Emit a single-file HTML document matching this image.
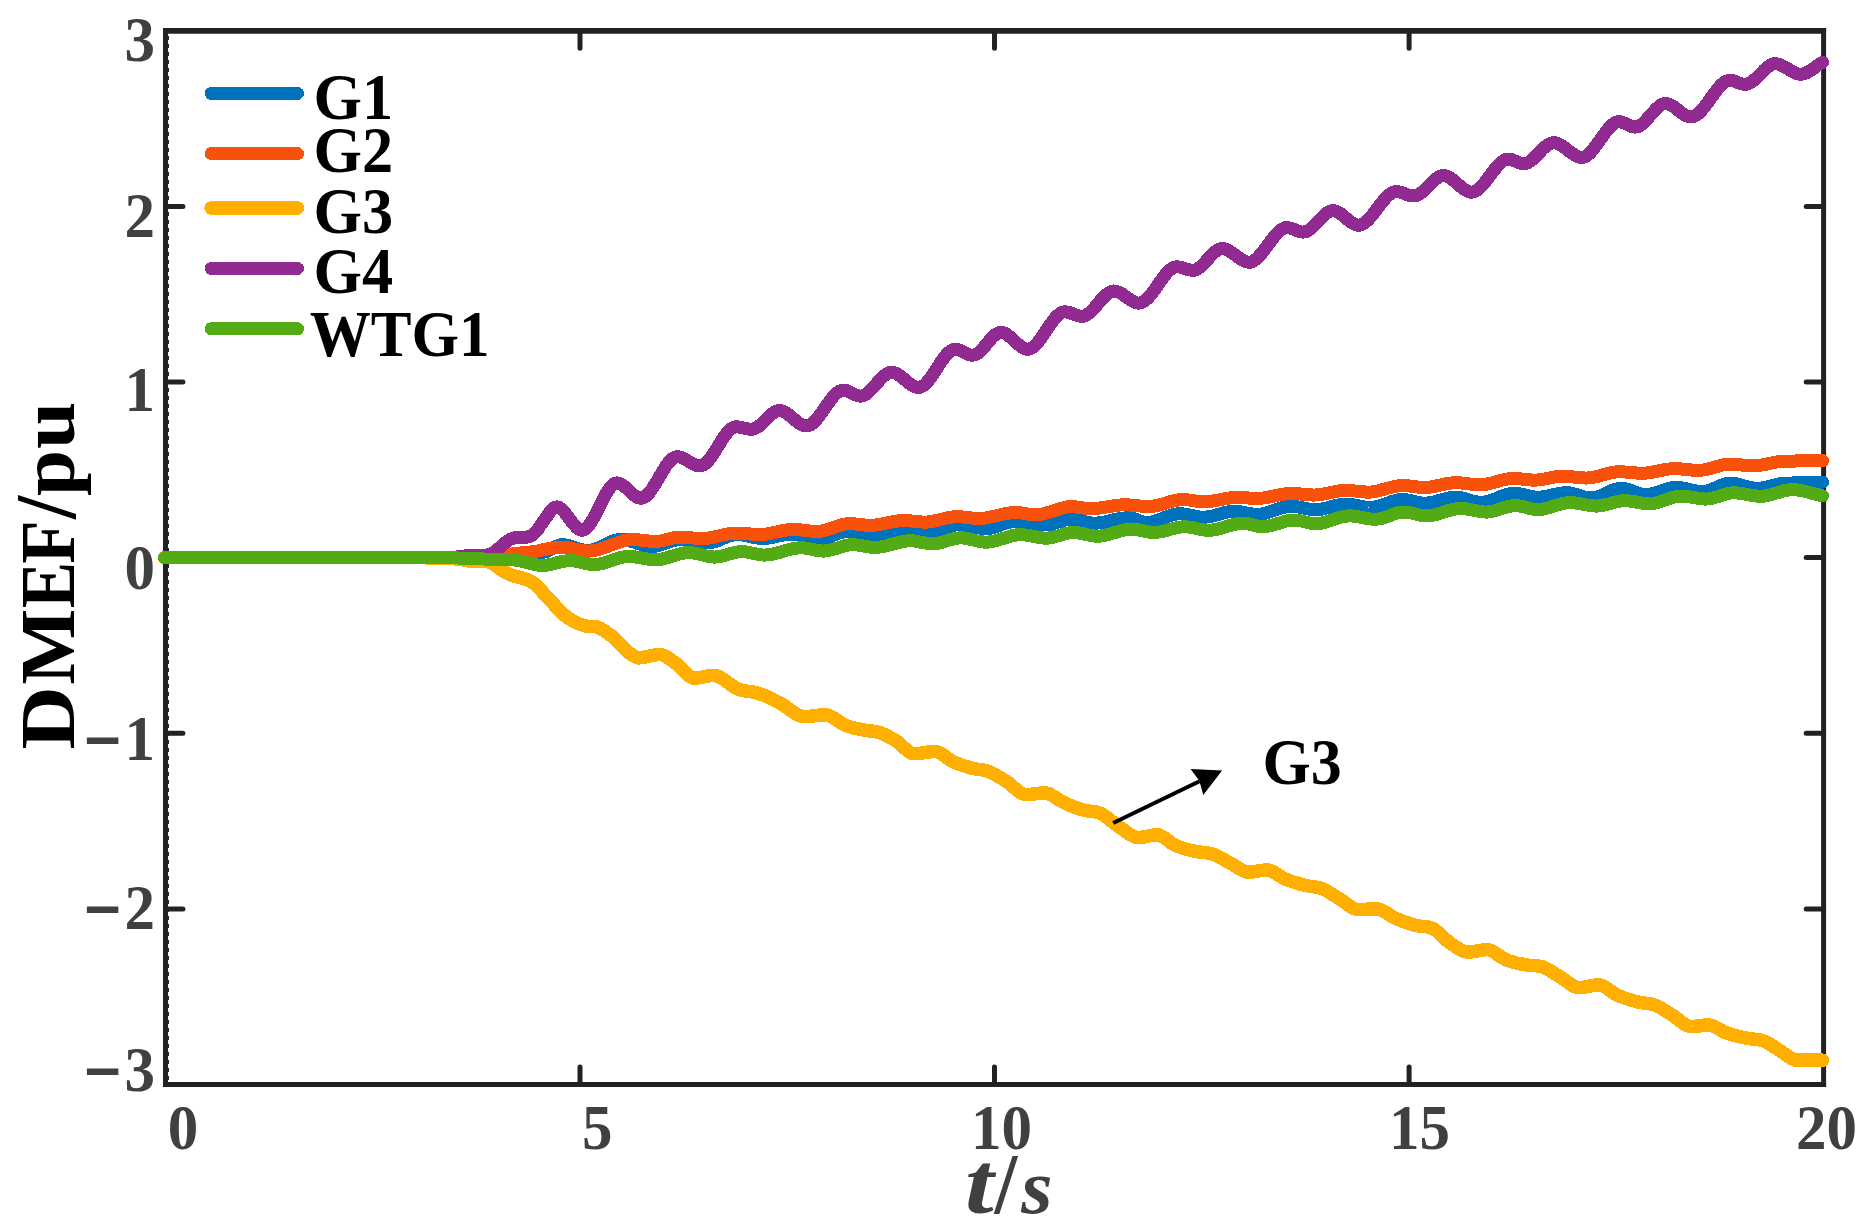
<!DOCTYPE html>
<html lang="en"><head><meta charset="utf-8"><title>DMEF/pu vs t/s</title>
<style>html,body{margin:0;padding:0;background:#fff;}svg{display:block;}</style></head>
<body>
<svg width="1870" height="1232" viewBox="0 0 1870 1232">
<rect width="1870" height="1232" fill="#ffffff"/>
<g stroke="#222222" fill="none"><path d="M163 30.9 H1826.1" stroke-width="5.6"/><path d="M163 1084.5 H1826.1" stroke-width="5"/><path d="M165.5 28.1 V1087" stroke-width="5"/><path d="M1823.6 28.1 V1087" stroke-width="5"/><path d="M168.5 36 V1082" stroke-width="1" stroke-dasharray="4 4"/></g>
<path d="M580.0 1084.5 V1067.1M580.0 30.8 V48.2M994.5 1084.5 V1067.1M994.5 30.8 V48.2M1409.1 1084.5 V1067.1M1409.1 30.8 V48.2M165.5 206.4 H182.9M1823.6 206.4 H1806.2M165.5 382.0 H182.9M1823.6 382.0 H1806.2M165.5 557.6 H182.9M1823.6 557.6 H1806.2M165.5 733.3 H182.9M1823.6 733.3 H1806.2M165.5 908.9 H182.9M1823.6 908.9 H1806.2" fill="none" stroke="#222222" stroke-width="5" stroke-linecap="round"/>
<g fill="none" stroke-width="13" stroke-linecap="round" stroke-linejoin="round" shape-rendering="crispEdges">
<path stroke="#0072BD" d="M164.5 557.6L470.0 557.6L471.5 557.6L473.0 557.6L474.5 557.6L476.0 557.6L477.5 557.5L479.0 557.4L480.5 557.4L482.0 557.3L483.5 557.2L485.0 557.1L486.5 557.0L488.0 556.9L489.5 556.8L491.0 556.7L492.5 556.6L494.0 556.5L495.5 556.3L497.0 556.2L498.5 556.1L500.0 556.0L501.4 555.9L502.9 555.8L504.3 555.7L505.7 555.5L507.1 555.4L508.6 555.3L510.0 555.1L511.4 555.0L512.9 554.9L514.3 554.7L515.7 554.6L517.1 554.5L518.6 554.3L520.0 554.2L521.4 554.1L522.8 553.9L524.3 553.8L525.7 553.6L527.1 553.4L528.5 553.3L529.9 553.1L531.4 552.9L532.8 552.8L534.2 552.7L535.6 552.5L537.0 552.4L538.4 552.3L539.9 552.3L541.3 552.2L542.7 552.2L544.2 552.1L545.7 551.7L547.2 551.2L548.6 550.5L550.1 549.7L551.6 548.9L553.1 548.0L554.6 547.2L556.1 546.4L557.5 545.7L559.0 545.2L560.5 544.8L562.0 544.7L563.4 544.8L564.9 544.9L566.3 545.1L567.8 545.4L569.2 545.8L570.7 546.2L572.1 546.6L573.6 547.1L575.0 547.6L576.4 548.1L577.9 548.6L579.3 549.0L580.8 549.4L582.2 549.8L583.7 550.1L585.1 550.3L586.6 550.4L588.0 550.5L589.5 550.4L591.0 550.2L592.5 549.9L594.0 549.5L595.5 549.1L597.0 548.5L598.5 547.9L600.0 547.2L601.5 546.5L603.0 545.7L604.5 545.0L606.0 544.3L607.5 543.5L609.0 542.8L610.5 542.1L612.0 541.5L613.5 540.9L615.0 540.5L616.5 540.1L618.0 539.8L619.5 539.6L621.0 539.5L622.5 539.5L623.9 539.7L625.4 539.9L626.9 540.2L628.3 540.5L629.8 540.9L631.3 541.3L632.7 541.7L634.2 542.2L635.7 542.7L637.1 543.2L638.6 543.7L640.1 544.2L641.5 544.6L643.0 545.0L644.5 545.4L645.9 545.7L647.4 546.0L648.9 546.2L650.3 546.4L651.8 546.4L653.3 546.3L654.7 546.2L656.2 546.0L657.6 545.7L659.1 545.3L660.5 544.9L662.0 544.5L663.4 544.0L664.9 543.5L666.3 543.0L667.8 542.4L669.3 541.9L670.7 541.4L672.2 541.0L673.6 540.6L675.1 540.2L676.5 539.9L678.0 539.7L679.4 539.6L680.9 539.5L682.3 539.5L683.8 539.6L685.2 539.7L686.6 539.9L688.1 540.1L689.5 540.3L690.9 540.5L692.4 540.8L693.8 541.0L695.2 541.3L696.6 541.5L698.1 541.8L699.5 542.0L700.9 542.2L702.4 542.4L703.8 542.6L705.2 542.7L706.7 542.8L708.1 542.8L709.5 542.7L711.0 542.6L712.4 542.3L713.9 541.9L715.3 541.5L716.8 541.0L718.2 540.5L719.7 539.9L721.1 539.3L722.5 538.6L724.0 538.0L725.4 537.4L726.9 536.8L728.3 536.3L729.8 535.8L731.2 535.4L732.7 535.0L734.1 534.7L735.6 534.6L737.0 534.5L738.4 534.5L739.9 534.6L741.3 534.8L742.7 535.0L744.1 535.3L745.6 535.5L747.0 535.8L748.4 536.2L749.9 536.5L751.3 536.8L752.7 537.2L754.1 537.5L755.6 537.7L757.0 538.0L758.4 538.2L759.8 538.4L761.3 538.5L762.7 538.5L764.2 538.5L765.7 538.4L767.2 538.2L768.7 538.0L770.1 537.8L771.6 537.5L773.1 537.2L774.6 536.9L776.1 536.5L777.6 536.2L779.1 535.8L780.6 535.5L782.1 535.2L783.6 534.9L785.0 534.7L786.5 534.5L788.0 534.3L789.5 534.2L791.0 534.2L792.5 534.2L794.0 534.3L795.4 534.4L796.9 534.6L798.4 534.8L799.9 535.0L801.3 535.2L802.8 535.5L804.3 535.8L805.8 536.1L807.2 536.3L808.7 536.6L810.2 536.9L811.7 537.2L813.1 537.4L814.6 537.6L816.1 537.8L817.6 538.0L819.0 538.1L820.5 538.2L822.0 538.2L823.5 538.1L824.9 537.9L826.4 537.6L827.9 537.3L829.4 536.8L830.8 536.3L832.3 535.7L833.8 535.1L835.2 534.6L836.7 534.0L838.2 533.4L839.6 532.9L841.1 532.4L842.6 532.1L844.1 531.8L845.5 531.6L847.0 531.5L848.5 531.5L849.9 531.6L851.4 531.7L852.9 531.9L854.4 532.1L855.8 532.4L857.3 532.6L858.8 532.9L860.3 533.2L861.7 533.5L863.2 533.8L864.7 534.1L866.2 534.3L867.6 534.6L869.1 534.8L870.6 535.0L872.1 535.1L873.5 535.2L875.0 535.2L876.5 535.2L877.9 535.0L879.4 534.9L880.8 534.6L882.3 534.3L883.7 533.9L885.2 533.5L886.6 533.1L888.1 532.7L889.5 532.2L891.0 531.8L892.5 531.3L893.9 530.8L895.4 530.4L896.8 530.0L898.3 529.6L899.7 529.2L901.2 528.9L902.6 528.6L904.1 528.5L905.5 528.3L907.0 528.3L908.4 528.3L909.9 528.4L911.3 528.6L912.7 528.7L914.1 529.0L915.6 529.2L917.0 529.5L918.4 529.8L919.9 530.0L921.3 530.3L922.7 530.6L924.1 530.9L925.6 531.1L927.0 531.4L928.4 531.5L929.8 531.7L931.3 531.8L932.7 531.8L934.2 531.7L935.6 531.5L937.1 531.2L938.6 530.8L940.1 530.3L941.5 529.8L943.0 529.2L944.5 528.6L945.9 528.0L947.4 527.4L948.9 526.8L950.3 526.3L951.8 525.8L953.3 525.4L954.8 525.1L956.2 524.9L957.7 524.8L959.2 524.8L960.7 524.9L962.2 525.0L963.7 525.2L965.2 525.4L966.7 525.7L968.2 525.9L969.7 526.2L971.2 526.5L972.7 526.8L974.2 527.1L975.7 527.4L977.2 527.6L978.7 527.9L980.2 528.1L981.7 528.3L983.2 528.4L984.7 528.5L986.2 528.5L987.7 528.4L989.1 528.3L990.6 528.1L992.0 527.8L993.5 527.4L994.9 527.0L996.4 526.5L997.8 526.0L999.3 525.5L1000.8 525.0L1002.2 524.4L1003.7 523.9L1005.1 523.4L1006.6 522.9L1008.0 522.5L1009.5 522.1L1010.9 521.8L1012.4 521.6L1013.8 521.5L1015.3 521.4L1016.8 521.4L1018.2 521.5L1019.7 521.6L1021.2 521.7L1022.6 521.9L1024.1 522.1L1025.6 522.3L1027.0 522.5L1028.5 522.7L1030.0 523.0L1031.4 523.2L1032.9 523.5L1034.4 523.7L1035.8 523.9L1037.3 524.1L1038.8 524.3L1040.2 524.5L1041.7 524.6L1043.2 524.7L1044.6 524.8L1046.1 524.8L1047.6 524.7L1049.0 524.6L1050.5 524.3L1052.0 524.0L1053.4 523.6L1054.9 523.2L1056.4 522.7L1057.8 522.2L1059.3 521.8L1060.7 521.3L1062.2 520.8L1063.7 520.4L1065.1 520.0L1066.6 519.7L1068.1 519.4L1069.5 519.3L1071.0 519.2L1072.4 519.2L1073.9 519.4L1075.3 519.6L1076.8 519.8L1078.2 520.1L1079.6 520.5L1081.1 520.8L1082.5 521.2L1083.9 521.6L1085.4 521.9L1086.8 522.3L1088.2 522.6L1089.7 522.8L1091.1 523.0L1092.6 523.2L1094.0 523.2L1095.5 523.2L1097.0 523.1L1098.5 522.9L1099.9 522.8L1101.4 522.5L1102.9 522.3L1104.4 522.0L1105.9 521.7L1107.4 521.4L1108.9 521.0L1110.4 520.7L1111.8 520.3L1113.3 520.0L1114.8 519.6L1116.3 519.3L1117.8 519.0L1119.3 518.7L1120.8 518.5L1122.3 518.2L1123.7 518.1L1125.2 517.9L1126.7 517.8L1128.2 517.8L1129.7 517.9L1131.1 518.1L1132.6 518.4L1134.0 518.8L1135.5 519.3L1136.9 519.8L1138.4 520.4L1139.8 520.9L1141.3 521.4L1142.7 521.8L1144.2 522.1L1145.6 522.3L1147.1 522.4L1148.6 522.3L1150.1 522.2L1151.5 522.0L1153.0 521.7L1154.5 521.3L1156.0 520.8L1157.4 520.3L1158.9 519.8L1160.4 519.3L1161.9 518.7L1163.3 518.1L1164.8 517.5L1166.3 516.9L1167.8 516.4L1169.3 515.9L1170.7 515.4L1172.2 514.9L1173.7 514.5L1175.2 514.2L1176.6 514.0L1178.1 513.9L1179.6 513.8L1181.1 513.8L1182.6 513.9L1184.1 514.1L1185.6 514.3L1187.1 514.6L1188.6 514.9L1190.1 515.2L1191.5 515.5L1193.0 515.8L1194.5 516.1L1196.0 516.4L1197.5 516.7L1199.0 516.9L1200.5 517.1L1202.0 517.2L1203.5 517.2L1205.0 517.2L1206.4 517.0L1207.9 516.9L1209.4 516.6L1210.8 516.4L1212.3 516.0L1213.8 515.7L1215.2 515.3L1216.7 514.9L1218.2 514.5L1219.6 514.0L1221.1 513.6L1222.6 513.2L1224.0 512.8L1225.5 512.5L1227.0 512.1L1228.4 511.9L1229.9 511.6L1231.4 511.5L1232.8 511.3L1234.3 511.3L1235.7 511.3L1237.1 511.4L1238.6 511.6L1240.0 511.8L1241.4 512.0L1242.8 512.3L1244.3 512.6L1245.7 512.9L1247.1 513.1L1248.5 513.4L1250.0 513.7L1251.4 513.9L1252.8 514.1L1254.2 514.3L1255.7 514.4L1257.1 514.4L1258.6 514.4L1260.1 514.2L1261.6 514.0L1263.0 513.8L1264.5 513.4L1266.0 513.0L1267.5 512.6L1269.0 512.1L1270.5 511.6L1272.0 511.1L1273.5 510.6L1274.9 510.1L1276.4 509.6L1277.9 509.1L1279.4 508.6L1280.9 508.1L1282.4 507.7L1283.9 507.3L1285.4 506.9L1286.8 506.7L1288.3 506.5L1289.8 506.3L1291.3 506.3L1292.8 506.3L1294.3 506.4L1295.8 506.6L1297.3 506.8L1298.8 507.1L1300.3 507.4L1301.8 507.7L1303.3 508.0L1304.8 508.3L1306.3 508.6L1307.8 508.9L1309.3 509.2L1310.8 509.4L1312.3 509.6L1313.8 509.7L1315.3 509.7L1316.8 509.7L1318.2 509.6L1319.7 509.4L1321.2 509.2L1322.6 508.9L1324.1 508.6L1325.6 508.2L1327.0 507.9L1328.5 507.5L1330.0 507.1L1331.4 506.7L1332.9 506.3L1334.4 505.9L1335.8 505.6L1337.3 505.2L1338.8 504.9L1340.2 504.6L1341.7 504.4L1343.2 504.2L1344.6 504.1L1346.1 504.1L1347.6 504.1L1349.1 504.2L1350.6 504.4L1352.1 504.6L1353.6 504.9L1355.1 505.2L1356.6 505.5L1358.0 505.8L1359.5 506.1L1361.0 506.4L1362.5 506.7L1364.0 507.0L1365.5 507.2L1367.0 507.4L1368.5 507.5L1370.0 507.5L1371.5 507.5L1373.0 507.3L1374.4 507.1L1375.9 506.8L1377.4 506.4L1378.9 506.0L1380.4 505.6L1381.9 505.1L1383.3 504.6L1384.8 504.0L1386.3 503.5L1387.8 503.0L1389.3 502.4L1390.7 501.9L1392.2 501.4L1393.7 501.0L1395.2 500.6L1396.7 500.2L1398.2 499.9L1399.6 499.7L1401.1 499.5L1402.6 499.5L1404.1 499.5L1405.6 499.7L1407.0 499.9L1408.5 500.1L1410.0 500.5L1411.5 500.8L1413.0 501.2L1414.4 501.5L1415.9 501.9L1417.4 502.2L1418.9 502.6L1420.4 502.8L1421.8 503.0L1423.3 503.2L1424.8 503.2L1426.3 503.2L1427.7 503.0L1429.2 502.9L1430.7 502.6L1432.1 502.3L1433.6 502.0L1435.1 501.6L1436.5 501.3L1438.0 500.8L1439.5 500.4L1440.9 500.0L1442.4 499.6L1443.9 499.1L1445.3 498.8L1446.8 498.4L1448.3 498.1L1449.7 497.8L1451.2 497.5L1452.7 497.4L1454.1 497.2L1455.6 497.2L1457.0 497.2L1458.5 497.4L1459.9 497.6L1461.3 497.9L1462.7 498.2L1464.2 498.5L1465.6 498.9L1467.0 499.4L1468.4 499.8L1469.9 500.2L1471.3 500.7L1472.7 501.1L1474.2 501.4L1475.6 501.7L1477.0 502.0L1478.4 502.2L1479.9 502.4L1481.3 502.4L1482.8 502.3L1484.3 502.2L1485.7 501.9L1487.2 501.6L1488.7 501.2L1490.2 500.7L1491.6 500.2L1493.1 499.7L1494.6 499.1L1496.1 498.5L1497.5 497.9L1499.0 497.2L1500.5 496.6L1502.0 496.0L1503.5 495.5L1504.9 495.0L1506.4 494.5L1507.9 494.1L1509.4 493.8L1510.8 493.5L1512.3 493.4L1513.8 493.3L1515.3 493.3L1516.8 493.5L1518.3 493.7L1519.8 493.9L1521.3 494.2L1522.8 494.5L1524.3 494.9L1525.8 495.2L1527.2 495.6L1528.7 496.0L1530.2 496.3L1531.7 496.6L1533.2 496.8L1534.7 497.0L1536.2 497.2L1537.7 497.2L1539.1 497.2L1540.6 497.1L1542.0 496.9L1543.5 496.7L1544.9 496.5L1546.3 496.2L1547.8 495.9L1549.2 495.6L1550.7 495.3L1552.1 494.9L1553.5 494.6L1555.0 494.3L1556.4 494.0L1557.9 493.7L1559.3 493.4L1560.7 493.2L1562.2 493.0L1563.6 492.8L1565.1 492.7L1566.5 492.7L1568.0 492.8L1569.4 492.9L1570.9 493.1L1572.3 493.4L1573.8 493.8L1575.2 494.2L1576.7 494.7L1578.1 495.1L1579.6 495.6L1581.0 496.0L1582.5 496.5L1583.9 496.9L1585.4 497.3L1586.8 497.6L1588.3 497.8L1589.7 497.9L1591.2 498.0L1592.7 497.9L1594.2 497.7L1595.7 497.4L1597.2 497.0L1598.7 496.5L1600.2 495.9L1601.7 495.3L1603.2 494.6L1604.7 493.9L1606.2 493.1L1607.7 492.4L1609.2 491.7L1610.7 491.0L1612.2 490.4L1613.7 489.8L1615.2 489.3L1616.7 488.9L1618.2 488.6L1619.7 488.4L1621.2 488.3L1622.7 488.4L1624.1 488.5L1625.6 488.8L1627.0 489.2L1628.5 489.6L1629.9 490.1L1631.4 490.6L1632.8 491.1L1634.3 491.7L1635.7 492.2L1637.2 492.7L1638.6 493.2L1640.1 493.6L1641.5 494.0L1643.0 494.3L1644.4 494.4L1645.9 494.5L1647.4 494.4L1648.9 494.3L1650.4 494.1L1651.9 493.8L1653.4 493.4L1654.9 493.0L1656.4 492.5L1657.9 492.0L1659.4 491.5L1660.9 490.9L1662.4 490.4L1663.9 489.9L1665.4 489.4L1666.9 488.9L1668.4 488.5L1669.9 488.1L1671.4 487.8L1672.9 487.6L1674.4 487.5L1675.9 487.4L1677.4 487.4L1678.8 487.5L1680.3 487.7L1681.8 487.9L1683.2 488.2L1684.7 488.5L1686.2 488.8L1687.6 489.1L1689.1 489.4L1690.6 489.8L1692.0 490.1L1693.5 490.4L1695.0 490.7L1696.4 491.0L1697.9 491.2L1699.4 491.4L1700.8 491.5L1702.3 491.5L1703.8 491.4L1705.3 491.2L1706.8 491.0L1708.3 490.6L1709.7 490.1L1711.2 489.6L1712.7 489.0L1714.2 488.4L1715.7 487.7L1717.2 487.1L1718.7 486.4L1720.2 485.8L1721.7 485.2L1723.2 484.7L1724.6 484.2L1726.1 483.8L1727.6 483.6L1729.1 483.4L1730.6 483.3L1732.1 483.3L1733.5 483.5L1735.0 483.7L1736.5 483.9L1737.9 484.2L1739.4 484.6L1740.9 485.0L1742.3 485.4L1743.8 485.8L1745.3 486.2L1746.7 486.6L1748.2 487.0L1749.7 487.4L1751.1 487.7L1752.6 487.9L1754.1 488.1L1755.5 488.3L1757.0 488.3L1758.5 488.3L1760.0 488.2L1761.5 488.0L1763.0 487.7L1764.5 487.5L1766.0 487.2L1767.5 486.8L1769.0 486.4L1770.5 486.0L1772.0 485.6L1773.5 485.3L1775.0 484.9L1776.5 484.5L1778.0 484.1L1779.5 483.8L1781.0 483.6L1782.5 483.3L1784.0 483.1L1785.5 483.0L1787.0 483.0L1788.5 483.0L1790.0 483.0L1791.4 483.0L1792.9 483.0L1794.4 482.9L1795.9 482.9L1797.4 482.9L1798.8 482.8L1800.3 482.8L1801.8 482.8L1803.3 482.7L1804.8 482.7L1806.2 482.6L1807.7 482.6L1809.2 482.5L1810.7 482.5L1812.1 482.4L1813.6 482.4L1815.1 482.3L1816.6 482.3L1818.1 482.2L1819.5 482.2L1821.0 482.1L1822.5 482.1"/>
<path stroke="#F7510B" d="M164.5 557.6L470.0 557.6L471.4 557.6L472.9 557.6L474.3 557.6L475.7 557.6L477.1 557.5L478.6 557.5L480.0 557.4L481.4 557.4L482.9 557.3L484.3 557.2L485.7 557.1L487.1 557.0L488.6 556.9L490.0 556.8L491.5 556.7L492.9 556.5L494.4 556.3L495.8 556.2L497.3 556.0L498.8 555.8L500.2 555.5L501.7 555.3L503.1 555.1L504.6 554.9L506.1 554.7L507.5 554.5L509.0 554.3L510.4 554.1L511.9 553.9L513.4 553.7L514.9 553.6L516.4 553.4L517.9 553.3L519.4 553.1L520.9 553.0L522.4 552.9L523.9 552.7L525.4 552.6L526.9 552.4L528.4 552.3L529.9 552.1L531.4 551.9L532.8 551.7L534.3 551.5L535.7 551.2L537.2 551.0L538.7 550.7L540.1 550.4L541.6 550.1L543.0 549.8L544.5 549.5L546.0 549.2L547.4 548.9L548.9 548.7L550.3 548.4L551.8 548.2L553.2 548.0L554.7 547.8L556.2 547.6L557.6 547.5L559.1 547.4L560.5 547.3L562.0 547.3L563.5 547.3L564.9 547.4L566.4 547.6L567.9 547.8L569.4 548.0L570.8 548.3L572.3 548.5L573.8 548.8L575.2 549.1L576.7 549.5L578.2 549.8L579.7 550.0L581.1 550.3L582.6 550.5L584.1 550.7L585.6 550.9L587.0 551.0L588.5 551.0L590.0 551.0L591.4 550.9L592.9 550.7L594.4 550.4L595.9 550.2L597.3 549.8L598.8 549.4L600.3 549.0L601.7 548.5L603.2 548.0L604.7 547.5L606.1 547.0L607.6 546.4L609.1 545.9L610.5 545.3L612.0 544.7L613.5 544.2L615.0 543.6L616.4 543.1L617.9 542.6L619.4 542.1L620.8 541.6L622.3 541.2L623.8 540.8L625.2 540.4L626.7 540.2L628.2 539.9L629.7 539.7L631.1 539.6L632.6 539.6L634.0 539.6L635.5 539.7L636.9 539.8L638.4 539.9L639.8 540.0L641.3 540.2L642.7 540.3L644.2 540.5L645.6 540.7L647.0 540.8L648.5 541.0L649.9 541.1L651.4 541.2L652.8 541.3L654.3 541.4L655.7 541.4L657.2 541.4L658.7 541.2L660.1 541.0L661.6 540.8L663.1 540.5L664.6 540.1L666.1 539.8L667.6 539.4L669.0 539.0L670.5 538.6L672.0 538.3L673.5 537.9L675.0 537.6L676.5 537.4L677.9 537.2L679.4 537.0L680.9 537.0L682.4 537.0L683.9 537.1L685.4 537.2L686.8 537.3L688.3 537.5L689.8 537.6L691.3 537.8L692.8 538.0L694.3 538.1L695.8 538.3L697.2 538.4L698.7 538.5L700.2 538.6L701.7 538.6L703.2 538.6L704.6 538.5L706.1 538.4L707.6 538.2L709.1 538.0L710.5 537.7L712.0 537.4L713.5 537.1L714.9 536.8L716.4 536.5L717.9 536.1L719.4 535.8L720.8 535.5L722.3 535.1L723.8 534.8L725.2 534.5L726.7 534.2L728.2 533.9L729.6 533.6L731.1 533.4L732.6 533.2L734.1 533.1L735.5 533.0L737.0 533.0L738.5 533.0L740.0 533.1L741.5 533.2L743.0 533.3L744.5 533.4L746.0 533.6L747.5 533.7L749.0 533.9L750.5 534.0L752.0 534.2L753.5 534.3L755.0 534.4L756.5 534.5L758.0 534.6L759.5 534.6L761.0 534.6L762.4 534.5L763.9 534.4L765.4 534.2L766.8 534.0L768.3 533.7L769.8 533.5L771.2 533.2L772.7 532.9L774.2 532.5L775.6 532.2L777.1 531.9L778.5 531.6L780.0 531.2L781.5 530.9L782.9 530.6L784.4 530.4L785.9 530.1L787.3 529.9L788.8 529.7L790.3 529.6L791.7 529.5L793.2 529.5L794.7 529.5L796.2 529.6L797.7 529.7L799.2 529.8L800.7 529.9L802.2 530.1L803.7 530.3L805.2 530.5L806.7 530.6L808.2 530.8L809.7 531.0L811.2 531.1L812.7 531.2L814.2 531.3L815.7 531.4L817.2 531.4L818.7 531.4L820.1 531.2L821.6 531.0L823.0 530.7L824.5 530.4L826.0 530.0L827.4 529.6L828.9 529.1L830.3 528.6L831.8 528.1L833.2 527.5L834.7 527.0L836.2 526.5L837.6 526.0L839.1 525.5L840.5 525.1L842.0 524.7L843.5 524.4L844.9 524.1L846.4 523.9L847.8 523.7L849.3 523.7L850.8 523.7L852.3 523.8L853.8 523.9L855.3 524.0L856.8 524.2L858.3 524.3L859.8 524.5L861.2 524.7L862.7 524.8L864.2 525.0L865.7 525.1L867.2 525.2L868.7 525.3L870.2 525.3L871.7 525.3L873.1 525.2L874.6 525.1L876.1 524.9L877.5 524.7L879.0 524.5L880.5 524.2L881.9 524.0L883.4 523.7L884.9 523.4L886.3 523.1L887.8 522.7L889.2 522.4L890.7 522.1L892.2 521.8L893.6 521.6L895.1 521.3L896.6 521.1L898.0 520.9L899.5 520.7L901.0 520.6L902.4 520.5L903.9 520.5L905.4 520.5L906.9 520.6L908.4 520.7L909.8 520.8L911.3 521.0L912.8 521.1L914.3 521.3L915.8 521.5L917.3 521.6L918.8 521.8L920.2 521.9L921.7 522.0L923.2 522.1L924.7 522.1L926.2 522.1L927.6 522.0L929.1 521.8L930.6 521.6L932.0 521.4L933.5 521.1L935.0 520.8L936.4 520.5L937.9 520.1L939.4 519.8L940.9 519.4L942.3 519.0L943.8 518.7L945.3 518.3L946.7 518.0L948.2 517.7L949.7 517.4L951.1 517.2L952.6 517.0L954.1 516.8L955.5 516.7L957.0 516.7L958.5 516.7L960.0 516.8L961.5 516.9L963.0 517.0L964.5 517.1L966.0 517.3L967.5 517.5L968.9 517.6L970.4 517.8L971.9 518.0L973.4 518.1L974.9 518.2L976.4 518.3L977.9 518.4L979.4 518.4L980.9 518.4L982.4 518.3L983.9 518.2L985.4 518.0L986.9 517.7L988.4 517.5L989.9 517.2L991.4 516.9L992.9 516.6L994.4 516.2L995.9 515.9L997.3 515.5L998.8 515.1L1000.3 514.8L1001.8 514.4L1003.3 514.1L1004.8 513.8L1006.3 513.5L1007.8 513.3L1009.3 513.0L1010.8 512.8L1012.3 512.7L1013.8 512.6L1015.3 512.6L1016.8 512.6L1018.2 512.7L1019.7 512.8L1021.2 513.0L1022.6 513.2L1024.1 513.4L1025.5 513.7L1027.0 513.9L1028.5 514.1L1029.9 514.3L1031.4 514.5L1032.9 514.6L1034.3 514.7L1035.8 514.7L1037.3 514.7L1038.8 514.5L1040.3 514.4L1041.8 514.1L1043.3 513.8L1044.8 513.4L1046.3 513.0L1047.8 512.6L1049.3 512.1L1050.8 511.7L1052.3 511.2L1053.8 510.7L1055.3 510.1L1056.8 509.6L1058.3 509.2L1059.8 508.7L1061.3 508.3L1062.8 507.9L1064.3 507.5L1065.8 507.2L1067.3 506.9L1068.8 506.8L1070.3 506.6L1071.8 506.6L1073.2 506.6L1074.7 506.7L1076.1 506.9L1077.6 507.1L1079.0 507.3L1080.5 507.5L1081.9 507.8L1083.4 508.0L1084.8 508.2L1086.3 508.4L1087.7 508.6L1089.2 508.7L1090.6 508.7L1092.1 508.7L1093.6 508.6L1095.1 508.5L1096.5 508.4L1098.0 508.2L1099.5 508.0L1101.0 507.8L1102.5 507.6L1104.0 507.4L1105.5 507.1L1107.0 506.9L1108.4 506.6L1109.9 506.4L1111.4 506.1L1112.9 505.9L1114.4 505.7L1115.9 505.5L1117.4 505.3L1118.9 505.1L1120.3 505.0L1121.8 504.9L1123.3 504.8L1124.8 504.8L1126.3 504.8L1127.8 504.9L1129.3 505.0L1130.8 505.1L1132.3 505.2L1133.8 505.3L1135.3 505.5L1136.8 505.6L1138.3 505.8L1139.8 506.0L1141.3 506.1L1142.8 506.2L1144.3 506.3L1145.8 506.4L1147.3 506.5L1148.8 506.5L1150.3 506.5L1151.8 506.4L1153.3 506.2L1154.7 505.9L1156.2 505.7L1157.7 505.3L1159.2 505.0L1160.7 504.6L1162.2 504.2L1163.7 503.7L1165.2 503.3L1166.6 502.8L1168.1 502.4L1169.6 501.9L1171.1 501.5L1172.6 501.1L1174.1 500.8L1175.6 500.4L1177.1 500.2L1178.5 499.9L1180.0 499.7L1181.5 499.6L1183.0 499.6L1184.5 499.6L1185.9 499.7L1187.4 499.9L1188.9 500.0L1190.3 500.2L1191.8 500.5L1193.2 500.7L1194.7 500.9L1196.2 501.2L1197.6 501.4L1199.1 501.5L1200.6 501.7L1202.0 501.8L1203.5 501.8L1205.0 501.8L1206.5 501.7L1208.0 501.6L1209.4 501.4L1210.9 501.3L1212.4 501.1L1213.9 500.8L1215.4 500.6L1216.9 500.3L1218.4 500.0L1219.9 499.7L1221.3 499.5L1222.8 499.2L1224.3 498.9L1225.8 498.6L1227.3 498.4L1228.8 498.1L1230.3 497.9L1231.8 497.8L1233.2 497.6L1234.7 497.5L1236.2 497.4L1237.7 497.4L1239.2 497.4L1240.7 497.5L1242.2 497.5L1243.7 497.6L1245.2 497.7L1246.7 497.8L1248.1 498.0L1249.6 498.1L1251.1 498.2L1252.6 498.3L1254.1 498.3L1255.6 498.4L1257.1 498.4L1258.6 498.4L1260.1 498.3L1261.6 498.2L1263.0 498.0L1264.5 497.8L1266.0 497.6L1267.5 497.3L1269.0 497.0L1270.5 496.7L1272.0 496.4L1273.5 496.1L1274.9 495.8L1276.4 495.5L1277.9 495.2L1279.4 494.9L1280.9 494.6L1282.4 494.3L1283.9 494.1L1285.4 493.9L1286.8 493.7L1288.3 493.6L1289.8 493.5L1291.3 493.5L1292.8 493.5L1294.3 493.6L1295.8 493.7L1297.2 493.8L1298.7 493.9L1300.2 494.0L1301.7 494.2L1303.2 494.3L1304.7 494.5L1306.2 494.6L1307.7 494.7L1309.1 494.8L1310.6 494.9L1312.1 495.0L1313.6 495.0L1315.1 495.0L1316.6 494.9L1318.0 494.8L1319.5 494.6L1321.0 494.4L1322.5 494.2L1323.9 493.9L1325.4 493.6L1326.9 493.3L1328.4 493.0L1329.8 492.7L1331.3 492.4L1332.8 492.1L1334.3 491.8L1335.8 491.5L1337.2 491.2L1338.7 491.0L1340.2 490.8L1341.7 490.6L1343.1 490.5L1344.6 490.4L1346.1 490.4L1347.6 490.4L1349.1 490.5L1350.5 490.6L1352.0 490.7L1353.5 490.8L1355.0 491.0L1356.5 491.2L1357.9 491.3L1359.4 491.5L1360.9 491.7L1362.4 491.8L1363.9 491.9L1365.3 492.0L1366.8 492.1L1368.3 492.1L1369.8 492.1L1371.3 492.0L1372.8 491.8L1374.3 491.6L1375.8 491.3L1377.2 491.0L1378.7 490.7L1380.2 490.3L1381.7 489.9L1383.2 489.5L1384.7 489.1L1386.2 488.6L1387.7 488.2L1389.2 487.8L1390.7 487.4L1392.2 487.0L1393.7 486.7L1395.1 486.4L1396.6 486.1L1398.1 485.9L1399.6 485.7L1401.1 485.6L1402.6 485.6L1404.1 485.6L1405.6 485.7L1407.0 485.8L1408.5 485.9L1410.0 486.1L1411.5 486.3L1413.0 486.5L1414.4 486.6L1415.9 486.8L1417.4 487.0L1418.9 487.2L1420.4 487.3L1421.8 487.4L1423.3 487.5L1424.8 487.5L1426.3 487.5L1427.7 487.4L1429.2 487.2L1430.7 487.0L1432.1 486.8L1433.6 486.5L1435.1 486.3L1436.5 485.9L1438.0 485.6L1439.5 485.3L1440.9 484.9L1442.4 484.6L1443.9 484.3L1445.3 483.9L1446.8 483.7L1448.3 483.4L1449.7 483.2L1451.2 483.0L1452.7 482.8L1454.1 482.7L1455.6 482.7L1457.1 482.7L1458.6 482.8L1460.1 482.9L1461.6 483.0L1463.1 483.2L1464.6 483.4L1466.1 483.6L1467.6 483.8L1469.1 483.9L1470.6 484.1L1472.1 484.3L1473.6 484.5L1475.1 484.6L1476.6 484.7L1478.1 484.8L1479.6 484.8L1481.1 484.8L1482.6 484.7L1484.1 484.5L1485.5 484.3L1487.0 484.0L1488.5 483.7L1490.0 483.4L1491.5 483.0L1493.0 482.6L1494.5 482.2L1496.0 481.8L1497.4 481.4L1498.9 481.0L1500.4 480.6L1501.9 480.2L1503.4 479.8L1504.9 479.5L1506.4 479.2L1507.9 478.9L1509.3 478.7L1510.8 478.5L1512.3 478.4L1513.8 478.4L1515.3 478.4L1516.7 478.5L1518.2 478.6L1519.7 478.7L1521.1 478.9L1522.6 479.1L1524.0 479.2L1525.5 479.4L1527.0 479.6L1528.4 479.8L1529.9 479.9L1531.4 480.0L1532.8 480.1L1534.3 480.1L1535.7 480.1L1537.2 480.0L1538.6 479.9L1540.0 479.7L1541.5 479.5L1542.9 479.3L1544.3 479.0L1545.7 478.7L1547.2 478.4L1548.6 478.1L1550.0 477.9L1551.5 477.6L1552.9 477.3L1554.3 477.0L1555.8 476.8L1557.2 476.6L1558.6 476.4L1560.0 476.3L1561.5 476.2L1562.9 476.2L1564.3 476.2L1565.8 476.3L1567.2 476.4L1568.7 476.5L1570.1 476.6L1571.5 476.8L1573.0 476.9L1574.4 477.1L1575.8 477.3L1577.3 477.4L1578.7 477.6L1580.2 477.7L1581.6 477.8L1583.0 477.9L1584.5 478.0L1585.9 478.0L1587.4 478.0L1588.8 477.9L1590.3 477.7L1591.7 477.5L1593.2 477.2L1594.6 477.0L1596.1 476.6L1597.6 476.3L1599.0 475.9L1600.5 475.5L1601.9 475.1L1603.4 474.7L1604.8 474.3L1606.3 473.9L1607.7 473.5L1609.2 473.2L1610.7 472.8L1612.1 472.6L1613.6 472.3L1615.0 472.1L1616.5 471.9L1617.9 471.8L1619.4 471.8L1620.8 471.8L1622.3 471.9L1623.7 471.9L1625.1 472.0L1626.6 472.1L1628.0 472.2L1629.4 472.4L1630.8 472.5L1632.3 472.6L1633.7 472.8L1635.1 472.9L1636.6 473.0L1638.0 473.1L1639.4 473.1L1640.9 473.2L1642.3 473.2L1643.7 473.2L1645.2 473.1L1646.6 473.0L1648.1 472.8L1649.5 472.6L1651.0 472.4L1652.4 472.1L1653.9 471.8L1655.3 471.6L1656.8 471.3L1658.2 470.9L1659.6 470.6L1661.1 470.3L1662.5 470.1L1664.0 469.8L1665.4 469.5L1666.9 469.3L1668.3 469.1L1669.8 468.9L1671.2 468.8L1672.7 468.7L1674.1 468.7L1675.6 468.7L1677.0 468.8L1678.5 468.8L1679.9 468.9L1681.4 469.0L1682.8 469.2L1684.3 469.3L1685.7 469.4L1687.2 469.6L1688.6 469.7L1690.1 469.8L1691.5 470.0L1693.0 470.1L1694.4 470.2L1695.9 470.2L1697.3 470.3L1698.8 470.3L1700.2 470.3L1701.7 470.2L1703.1 470.0L1704.6 469.8L1706.0 469.5L1707.5 469.2L1708.9 468.8L1710.4 468.4L1711.8 468.0L1713.3 467.6L1714.7 467.2L1716.1 466.8L1717.6 466.4L1719.0 466.0L1720.5 465.6L1721.9 465.2L1723.4 464.9L1724.8 464.6L1726.3 464.4L1727.7 464.2L1729.2 464.1L1730.6 464.1L1732.0 464.1L1733.4 464.2L1734.8 464.3L1736.3 464.4L1737.7 464.6L1739.1 464.7L1740.5 464.9L1741.9 465.1L1743.3 465.3L1744.7 465.4L1746.1 465.6L1747.6 465.7L1749.0 465.8L1750.4 465.9L1751.8 465.9L1753.3 465.9L1754.7 465.8L1756.2 465.7L1757.7 465.5L1759.1 465.4L1760.6 465.1L1762.1 464.9L1763.5 464.6L1765.0 464.3L1766.5 464.1L1767.9 463.8L1769.4 463.4L1770.9 463.1L1772.3 462.8L1773.8 462.6L1775.3 462.3L1776.7 462.0L1778.2 461.8L1779.7 461.5L1781.1 461.4L1782.6 461.2L1784.1 461.1L1785.5 461.0L1787.0 461.0L1788.5 461.0L1790.0 461.0L1791.4 461.0L1792.9 461.0L1794.4 461.0L1795.9 461.0L1797.4 460.9L1798.8 460.9L1800.3 460.9L1801.8 460.9L1803.3 460.9L1804.8 460.9L1806.2 460.8L1807.7 460.8L1809.2 460.8L1810.7 460.8L1812.1 460.7L1813.6 460.7L1815.1 460.7L1816.6 460.7L1818.1 460.7L1819.5 460.6L1821.0 460.6L1822.5 460.6"/>
<path stroke="#FFAF00" stroke-width="13.5" d="M164.5 557.6L420.0 557.6L421.4 557.7L422.9 557.7L424.3 557.7L425.7 557.7L427.1 557.8L428.6 557.8L430.0 557.8L431.4 557.9L432.9 557.9L434.3 558.0L435.7 558.0L437.1 558.1L438.6 558.1L440.0 558.2L441.4 558.2L442.8 558.3L444.2 558.3L445.6 558.3L447.0 558.4L448.4 558.4L449.7 558.4L451.1 558.5L452.5 558.6L453.9 558.7L455.3 558.8L456.7 558.9L458.1 559.1L459.5 559.3L460.9 559.5L462.3 559.8L463.7 560.0L465.1 560.3L466.5 560.6L467.9 560.8L469.3 561.1L470.7 561.3L472.1 561.5L473.6 561.6L475.1 561.7L476.5 561.6L478.0 561.6L479.5 561.5L481.0 561.4L482.4 561.3L483.9 561.3L485.4 561.4L486.9 561.6L488.3 561.9L489.8 562.3L491.3 562.9L492.8 563.7L494.2 564.7L495.7 565.7L497.2 566.8L498.7 568.0L500.1 569.0L501.6 570.0L503.1 570.9L504.5 571.7L506.0 572.6L507.5 573.4L509.0 574.1L510.4 574.8L511.9 575.4L513.3 575.9L514.8 576.3L516.2 576.7L517.6 577.0L519.1 577.2L520.5 577.6L522.0 577.9L523.4 578.4L524.9 578.9L526.4 579.5L527.9 580.1L529.4 580.7L530.9 581.5L532.4 582.4L533.9 583.4L535.3 584.7L536.8 586.0L538.2 587.4L539.7 588.9L541.1 590.5L542.6 592.1L544.0 593.6L545.5 595.1L547.0 596.6L548.5 598.2L550.0 599.9L551.4 601.5L552.9 603.2L554.4 604.9L555.9 606.6L557.4 608.2L558.9 609.8L560.3 611.4L561.8 612.8L563.3 614.2L564.8 615.4L566.3 616.5L567.8 617.6L569.3 618.6L570.8 619.6L572.3 620.5L573.8 621.3L575.2 622.1L576.7 622.8L578.2 623.5L579.7 624.1L581.2 624.6L582.7 625.1L584.2 625.6L585.7 625.9L587.2 626.2L588.7 626.3L590.2 626.3L591.7 626.3L593.2 626.4L594.7 626.6L596.2 626.8L597.7 627.3L599.1 627.9L600.5 628.5L601.9 629.3L603.3 630.1L604.7 631.0L606.1 632.0L607.5 633.0L608.9 634.0L610.3 635.0L611.7 636.1L613.1 637.2L614.6 638.4L616.1 639.8L617.6 641.2L619.0 642.7L620.5 644.3L622.0 645.8L623.5 647.4L625.0 648.9L626.5 650.4L627.9 651.8L629.4 653.0L630.9 654.2L632.4 655.1L633.9 656.0L635.3 656.9L636.8 657.5L638.2 657.8L639.6 657.8L641.0 657.6L642.5 657.5L643.9 657.2L645.3 657.0L646.7 656.7L648.1 656.4L649.6 656.0L651.0 655.7L652.4 655.4L653.8 655.2L655.2 654.9L656.7 654.8L658.1 654.6L659.5 654.6L661.0 654.7L662.4 655.0L663.9 655.5L665.3 656.2L666.8 657.0L668.2 657.9L669.6 658.9L671.1 660.0L672.5 661.0L674.0 662.1L675.4 663.2L676.9 664.2L678.3 665.3L679.8 666.6L681.2 668.0L682.7 669.5L684.1 671.1L685.5 672.6L687.0 674.1L688.4 675.4L689.9 676.5L691.3 677.3L692.8 677.9L694.2 678.1L695.7 678.1L697.2 677.9L698.7 677.7L700.2 677.5L701.7 677.2L703.2 676.9L704.6 676.6L706.1 676.3L707.6 676.0L709.1 675.8L710.6 675.6L712.1 675.4L713.6 675.4L715.1 675.5L716.6 675.8L718.0 676.3L719.5 677.0L721.0 677.8L722.5 678.7L723.9 679.6L725.4 680.7L726.9 681.8L728.4 682.9L729.8 684.0L731.3 685.1L732.8 686.1L734.3 687.1L735.7 688.0L737.2 688.7L738.7 689.3L740.2 689.8L741.7 690.2L743.2 690.5L744.6 690.8L746.1 691.0L747.6 691.2L749.1 691.4L750.6 691.7L752.1 691.9L753.5 692.1L755.0 692.4L756.5 692.8L758.0 693.2L759.4 693.7L760.8 694.2L762.2 694.7L763.7 695.2L765.1 695.8L766.5 696.4L767.9 697.1L769.3 697.7L770.7 698.4L772.1 699.0L773.5 699.7L775.0 700.4L776.4 701.1L777.8 701.8L779.2 702.5L780.7 703.3L782.2 704.2L783.6 705.2L785.1 706.2L786.6 707.3L788.1 708.4L789.6 709.5L791.1 710.6L792.5 711.6L794.0 712.6L795.5 713.6L797.0 714.4L798.5 715.2L800.0 715.8L801.4 716.2L802.9 716.5L804.4 716.6L805.8 716.6L807.2 716.5L808.7 716.4L810.1 716.3L811.5 716.1L812.9 716.0L814.3 715.8L815.8 715.6L817.2 715.4L818.6 715.3L820.0 715.1L821.4 715.0L822.9 714.9L824.3 714.8L825.7 714.8L827.2 714.9L828.7 715.3L830.2 715.9L831.6 716.6L833.1 717.5L834.6 718.5L836.1 719.5L837.6 720.6L839.1 721.6L840.5 722.7L842.0 723.6L843.5 724.4L845.0 725.1L846.5 725.7L848.0 726.2L849.5 726.7L850.9 727.1L852.4 727.5L853.9 727.9L855.4 728.2L856.9 728.6L858.4 728.9L859.8 729.2L861.3 729.5L862.8 729.8L864.3 730.1L865.7 730.4L867.1 730.6L868.5 730.7L869.9 730.9L871.3 731.0L872.7 731.2L874.1 731.4L875.5 731.6L876.9 731.9L878.3 732.2L879.7 732.6L881.1 733.1L882.5 733.6L883.9 734.3L885.3 734.9L886.7 735.6L888.2 736.3L889.6 737.1L891.0 737.9L892.4 738.7L893.8 739.5L895.2 740.3L896.7 741.3L898.2 742.4L899.7 743.7L901.1 745.0L902.6 746.4L904.1 747.7L905.6 749.1L907.1 750.3L908.6 751.4L910.0 752.4L911.5 753.1L913.0 753.5L914.5 753.7L916.0 753.7L917.4 753.6L918.9 753.4L920.3 753.3L921.8 753.1L923.2 752.8L924.6 752.6L926.1 752.4L927.5 752.1L929.0 751.9L930.4 751.8L931.9 751.6L933.3 751.5L934.8 751.5L936.2 751.6L937.6 752.0L939.0 752.5L940.4 753.2L941.8 754.1L943.2 755.0L944.7 756.0L946.1 757.1L947.5 758.1L948.9 759.1L950.3 760.0L951.7 760.9L953.1 761.6L954.6 762.3L956.1 762.9L957.6 763.5L959.0 764.1L960.5 764.6L962.0 765.2L963.5 765.7L965.0 766.2L966.5 766.6L967.9 767.1L969.4 767.5L970.9 767.9L972.4 768.3L973.8 768.6L975.2 768.9L976.6 769.1L978.0 769.3L979.4 769.5L980.9 769.7L982.3 769.9L983.7 770.1L985.1 770.4L986.5 770.7L987.9 771.2L989.4 771.8L990.8 772.4L992.2 773.1L993.7 773.8L995.1 774.6L996.6 775.4L998.0 776.3L999.5 777.2L1000.9 778.0L1002.4 778.9L1003.8 779.8L1005.3 780.7L1006.7 781.6L1008.1 782.6L1009.5 783.8L1011.0 784.9L1012.4 786.2L1013.8 787.4L1015.2 788.6L1016.6 789.8L1018.0 790.9L1019.4 791.9L1020.8 792.8L1022.3 793.6L1023.7 794.1L1025.1 794.5L1026.5 794.6L1027.9 794.6L1029.3 794.5L1030.7 794.4L1032.2 794.2L1033.6 794.0L1035.0 793.8L1036.4 793.7L1037.8 793.5L1039.2 793.3L1040.7 793.1L1042.1 793.0L1043.5 792.9L1044.9 792.9L1046.3 793.0L1047.7 793.3L1049.1 793.8L1050.5 794.5L1051.9 795.3L1053.3 796.1L1054.8 797.0L1056.2 798.0L1057.6 799.0L1059.0 799.9L1060.4 800.8L1061.8 801.6L1063.2 802.3L1064.6 802.9L1066.0 803.6L1067.4 804.2L1068.9 804.8L1070.3 805.4L1071.7 805.9L1073.1 806.5L1074.5 807.1L1075.9 807.6L1077.3 808.1L1078.7 808.6L1080.2 809.0L1081.6 809.5L1083.0 809.9L1084.4 810.3L1085.8 810.6L1087.2 810.9L1088.7 811.1L1090.1 811.2L1091.5 811.4L1092.9 811.5L1094.3 811.7L1095.7 811.9L1097.2 812.3L1098.6 812.7L1100.0 813.2L1101.5 813.9L1103.0 814.7L1104.5 815.7L1105.9 816.7L1107.4 817.8L1108.9 819.0L1110.4 820.2L1111.9 821.4L1113.4 822.6L1114.8 823.8L1116.3 824.9L1117.8 826.0L1119.3 827.0L1120.8 828.0L1122.3 829.0L1123.8 830.1L1125.2 831.2L1126.7 832.2L1128.2 833.3L1129.7 834.2L1131.2 835.1L1132.7 835.9L1134.1 836.6L1135.6 837.1L1137.1 837.4L1138.6 837.5L1140.0 837.5L1141.4 837.3L1142.8 837.1L1144.3 836.9L1145.7 836.6L1147.1 836.3L1148.5 836.0L1149.9 835.7L1151.3 835.4L1152.8 835.2L1154.2 835.0L1155.6 834.8L1157.0 834.8L1158.4 834.9L1159.8 835.3L1161.2 835.9L1162.6 836.6L1164.0 837.5L1165.4 838.5L1166.9 839.6L1168.3 840.6L1169.7 841.7L1171.1 842.8L1172.5 843.7L1173.9 844.6L1175.3 845.3L1176.7 845.9L1178.1 846.5L1179.6 847.0L1181.0 847.5L1182.4 848.0L1183.8 848.5L1185.2 848.9L1186.7 849.3L1188.1 849.6L1189.5 850.0L1190.9 850.3L1192.3 850.7L1193.8 851.0L1195.2 851.3L1196.6 851.6L1198.0 851.9L1199.4 852.1L1200.8 852.2L1202.2 852.4L1203.6 852.5L1205.0 852.6L1206.4 852.8L1207.8 853.0L1209.2 853.2L1210.6 853.5L1212.0 853.9L1213.5 854.4L1214.9 855.0L1216.3 855.6L1217.8 856.3L1219.2 857.1L1220.7 857.9L1222.2 858.7L1223.6 859.5L1225.1 860.3L1226.5 861.1L1228.0 861.9L1229.4 862.6L1230.9 863.4L1232.4 864.3L1233.9 865.2L1235.3 866.2L1236.8 867.1L1238.3 868.1L1239.8 869.0L1241.3 869.8L1242.8 870.6L1244.2 871.2L1245.7 871.7L1247.2 872.0L1248.7 872.1L1250.1 872.1L1251.5 872.0L1252.9 871.8L1254.4 871.6L1255.8 871.4L1257.2 871.2L1258.6 870.9L1260.0 870.7L1261.4 870.5L1262.9 870.3L1264.3 870.1L1265.7 870.0L1267.1 870.0L1268.5 870.1L1269.9 870.4L1271.3 870.9L1272.7 871.6L1274.1 872.3L1275.5 873.2L1277.0 874.1L1278.4 875.0L1279.8 875.9L1281.2 876.8L1282.6 877.7L1284.0 878.5L1285.4 879.1L1286.8 879.7L1288.2 880.2L1289.6 880.7L1291.1 881.2L1292.5 881.7L1293.9 882.1L1295.3 882.6L1296.7 883.0L1298.1 883.4L1299.5 883.8L1300.9 884.2L1302.4 884.5L1303.8 884.9L1305.2 885.3L1306.6 885.6L1308.0 885.9L1309.4 886.2L1310.8 886.4L1312.2 886.6L1313.6 886.8L1315.1 887.0L1316.5 887.2L1317.9 887.5L1319.3 887.8L1320.7 888.2L1322.1 888.7L1323.5 889.3L1325.0 890.0L1326.4 890.8L1327.9 891.6L1329.3 892.5L1330.8 893.4L1332.2 894.3L1333.7 895.3L1335.2 896.2L1336.6 897.1L1338.0 898.0L1339.5 898.9L1341.0 899.8L1342.5 900.8L1344.0 901.9L1345.4 902.9L1346.9 904.0L1348.4 905.1L1349.9 906.1L1351.4 907.1L1352.9 907.9L1354.3 908.6L1355.8 909.1L1357.3 909.5L1358.8 909.6L1360.2 909.6L1361.7 909.5L1363.2 909.5L1364.6 909.4L1366.0 909.3L1367.5 909.2L1369.0 909.1L1370.4 909.0L1371.8 908.9L1373.3 908.9L1374.8 908.8L1376.2 908.8L1377.7 908.9L1379.2 909.2L1380.7 909.8L1382.1 910.4L1383.6 911.2L1385.1 912.1L1386.6 913.0L1388.1 914.0L1389.6 915.0L1391.0 915.9L1392.5 916.8L1394.0 917.6L1395.5 918.3L1396.9 918.9L1398.3 919.5L1399.7 920.0L1401.2 920.6L1402.6 921.1L1404.0 921.7L1405.4 922.2L1406.8 922.7L1408.2 923.1L1409.6 923.6L1411.0 924.0L1412.5 924.5L1413.9 924.9L1415.3 925.2L1416.7 925.6L1418.1 925.9L1419.5 926.1L1420.9 926.3L1422.3 926.4L1423.7 926.5L1425.2 926.6L1426.6 926.8L1428.0 927.0L1429.4 927.3L1430.8 927.7L1432.2 928.3L1433.7 929.1L1435.2 930.0L1436.7 931.1L1438.2 932.4L1439.7 933.7L1441.2 935.1L1442.6 936.5L1444.1 937.9L1445.6 939.3L1447.1 940.6L1448.6 941.9L1450.1 943.1L1451.6 944.1L1453.1 945.1L1454.6 946.1L1456.1 947.0L1457.6 948.0L1459.1 948.9L1460.5 949.8L1462.0 950.5L1463.5 951.1L1465.0 951.6L1466.5 951.9L1468.0 952.0L1469.5 952.0L1471.0 951.9L1472.5 951.7L1473.9 951.5L1475.4 951.2L1476.9 951.0L1478.4 950.7L1479.9 950.5L1481.4 950.2L1482.8 950.0L1484.3 949.8L1485.8 949.7L1487.3 949.7L1488.7 949.8L1490.1 950.2L1491.5 950.7L1493.0 951.4L1494.4 952.3L1495.8 953.2L1497.2 954.2L1498.6 955.2L1500.0 956.3L1501.5 957.2L1502.9 958.1L1504.3 958.9L1505.7 959.6L1507.1 960.2L1508.5 960.7L1509.9 961.1L1511.4 961.6L1512.8 962.0L1514.2 962.4L1515.6 962.7L1517.0 963.1L1518.4 963.4L1519.8 963.7L1521.2 964.0L1522.7 964.2L1524.1 964.5L1525.5 964.7L1526.9 965.0L1528.3 965.2L1529.7 965.4L1531.1 965.5L1532.5 965.5L1533.9 965.6L1535.4 965.7L1536.8 965.8L1538.2 966.0L1539.6 966.2L1541.0 966.5L1542.4 966.9L1543.8 967.4L1545.3 968.1L1546.7 968.8L1548.2 969.5L1549.6 970.4L1551.1 971.2L1552.5 972.1L1553.9 973.1L1555.4 974.0L1556.8 974.9L1558.3 975.8L1559.7 976.6L1561.2 977.5L1562.7 978.5L1564.2 979.6L1565.7 980.7L1567.2 981.8L1568.7 982.9L1570.1 984.0L1571.6 985.0L1573.1 985.8L1574.6 986.6L1576.1 987.1L1577.6 987.5L1579.1 987.6L1580.6 987.6L1582.1 987.4L1583.6 987.2L1585.0 987.0L1586.5 986.7L1588.0 986.4L1589.5 986.1L1591.0 985.8L1592.5 985.5L1593.9 985.3L1595.4 985.1L1596.9 984.9L1598.4 984.9L1599.9 985.0L1601.4 985.4L1602.9 986.0L1604.3 986.7L1605.8 987.6L1607.3 988.5L1608.8 989.6L1610.3 990.6L1611.8 991.7L1613.2 992.7L1614.7 993.7L1616.2 994.6L1617.7 995.3L1619.1 995.9L1620.5 996.5L1621.9 997.0L1623.4 997.6L1624.8 998.1L1626.2 998.6L1627.6 999.0L1629.0 999.5L1630.4 999.9L1631.8 1000.3L1633.2 1000.7L1634.7 1001.1L1636.1 1001.5L1637.5 1001.9L1638.9 1002.2L1640.3 1002.5L1641.8 1002.7L1643.2 1002.9L1644.6 1003.1L1646.0 1003.3L1647.5 1003.4L1648.9 1003.6L1650.3 1003.9L1651.7 1004.2L1653.2 1004.5L1654.6 1005.0L1656.0 1005.6L1657.4 1006.2L1658.8 1006.9L1660.1 1007.6L1661.5 1008.4L1662.9 1009.3L1664.3 1010.1L1665.7 1011.0L1667.0 1011.9L1668.4 1012.7L1669.8 1013.6L1671.2 1014.4L1672.7 1015.3L1674.1 1016.3L1675.5 1017.4L1677.0 1018.5L1678.5 1019.7L1679.9 1020.8L1681.3 1021.9L1682.8 1023.0L1684.2 1023.9L1685.7 1024.8L1687.2 1025.5L1688.6 1026.0L1690.0 1026.4L1691.5 1026.5L1692.9 1026.5L1694.3 1026.4L1695.7 1026.3L1697.0 1026.1L1698.4 1025.9L1699.8 1025.8L1701.2 1025.6L1702.6 1025.4L1703.9 1025.2L1705.3 1025.1L1706.7 1025.0L1708.1 1025.0L1709.6 1025.1L1711.0 1025.4L1712.5 1025.8L1713.9 1026.4L1715.4 1027.1L1716.8 1027.8L1718.3 1028.6L1719.7 1029.5L1721.2 1030.3L1722.6 1031.1L1724.1 1031.9L1725.5 1032.5L1727.0 1033.1L1728.4 1033.6L1729.9 1034.0L1731.3 1034.5L1732.7 1034.9L1734.1 1035.3L1735.6 1035.6L1737.0 1036.0L1738.4 1036.3L1739.9 1036.7L1741.3 1037.0L1742.7 1037.3L1744.1 1037.6L1745.6 1037.9L1747.0 1038.2L1748.4 1038.5L1749.8 1038.7L1751.2 1038.9L1752.7 1039.0L1754.1 1039.2L1755.5 1039.3L1756.9 1039.5L1758.3 1039.7L1759.8 1040.0L1761.2 1040.3L1762.6 1040.7L1764.0 1041.2L1765.4 1041.8L1766.8 1042.5L1768.3 1043.2L1769.7 1044.1L1771.1 1044.9L1772.5 1045.8L1773.9 1046.8L1775.3 1047.7L1776.8 1048.6L1778.2 1049.5L1779.6 1050.3L1781.0 1051.2L1782.5 1052.2L1783.9 1053.3L1785.4 1054.4L1786.8 1055.4L1788.3 1056.5L1789.8 1057.5L1791.2 1058.4L1792.7 1059.1L1794.1 1059.7L1795.5 1060.1L1797.0 1060.2L1822.5 1060.2"/>
<path stroke="#912B91" d="M164.5 557.6L446.0 557.6L447.4 557.6L448.9 557.6L450.3 557.5L451.7 557.4L453.1 557.3L454.6 557.1L456.0 557.0L457.4 556.9L458.9 556.7L460.3 556.5L461.7 556.4L463.1 556.2L464.6 556.0L466.0 555.9L467.4 555.8L468.9 555.7L470.3 555.6L471.7 555.6L473.1 555.5L474.6 555.5L476.0 555.4L477.4 555.4L478.9 555.4L480.3 555.4L481.7 555.4L483.1 555.4L484.6 555.3L486.0 555.1L487.4 554.8L488.8 554.5L490.1 554.2L491.5 553.6L492.8 552.9L494.0 552.1L495.3 551.2L496.5 550.2L497.8 549.2L499.2 548.0L500.6 546.7L502.1 545.4L503.5 544.2L504.9 543.0L506.4 541.8L507.9 540.7L509.3 539.8L510.5 539.2L511.6 538.7L512.8 538.3L514.0 538.0L515.4 537.7L516.8 537.5L518.2 537.4L519.6 537.3L521.0 537.3L522.3 537.3L523.5 537.3L524.8 537.3L526.0 537.2L527.3 537.0L528.5 536.7L529.6 536.3L530.8 535.9L532.0 535.2L533.2 534.4L534.3 533.3L535.5 532.2L536.9 530.5L538.4 528.5L539.8 526.3L541.3 524.2L542.7 522.2L544.1 520.3L545.5 518.3L546.9 516.2L548.3 514.2L549.7 512.3L551.1 510.6L552.5 509.1L553.9 507.9L555.3 507.2L556.7 506.9L558.2 507.1L559.7 507.8L561.2 508.8L562.7 510.2L564.1 511.8L565.6 513.6L567.1 515.5L568.6 517.5L570.1 519.6L571.6 521.6L573.1 523.5L574.6 525.3L576.0 526.9L577.5 528.3L579.0 529.3L580.5 530.0L582.0 530.2L583.5 530.0L584.9 529.3L586.4 528.2L587.8 526.7L589.3 524.9L590.7 522.8L592.2 520.5L593.6 517.9L595.1 515.2L596.5 512.4L598.0 509.5L599.5 506.6L600.9 503.6L602.4 500.7L603.8 497.9L605.3 495.2L606.7 492.6L608.2 490.3L609.6 488.2L611.1 486.4L612.5 484.9L614.0 483.8L615.4 483.1L616.9 482.9L618.3 483.1L619.7 483.5L621.2 484.2L622.6 485.0L624.0 486.1L625.4 487.3L626.8 488.5L628.2 489.9L629.7 491.2L631.1 492.6L632.5 493.8L633.9 495.0L635.3 496.1L636.7 496.9L638.2 497.6L639.6 498.0L641.0 498.2L642.4 498.0L643.9 497.4L645.3 496.6L646.8 495.4L648.2 493.9L649.7 492.2L651.1 490.3L652.6 488.2L654.0 485.9L655.4 483.6L656.9 481.2L658.3 478.7L659.8 476.2L661.2 473.7L662.7 471.3L664.1 469.0L665.5 466.7L667.0 464.6L668.4 462.7L669.9 461.0L671.3 459.5L672.8 458.3L674.2 457.5L675.7 456.9L677.1 456.7L678.5 456.8L680.0 457.1L681.4 457.5L682.8 458.1L684.3 458.8L685.7 459.6L687.1 460.4L688.5 461.3L690.0 462.2L691.4 463.0L692.8 463.8L694.3 464.5L695.7 465.1L697.1 465.5L698.6 465.8L700.0 465.9L701.5 465.7L703.0 465.1L704.5 464.2L706.0 463.0L707.5 461.5L709.0 459.8L710.5 457.9L712.0 455.8L713.5 453.5L715.0 451.2L716.5 448.8L718.0 446.4L719.5 443.9L721.0 441.5L722.5 439.2L724.0 436.9L725.5 434.8L727.0 432.9L728.5 431.2L730.0 429.7L731.5 428.5L733.0 427.6L734.5 427.0L736.0 426.8L737.4 426.9L738.8 427.0L740.2 427.3L741.6 427.6L743.0 427.9L744.5 428.2L745.9 428.5L747.3 428.8L748.7 429.1L750.1 429.2L751.5 429.3L753.0 429.2L754.4 428.7L755.9 428.0L757.4 427.2L758.9 426.1L760.3 424.9L761.8 423.6L763.3 422.1L764.8 420.7L766.2 419.2L767.7 417.8L769.2 416.3L770.7 415.0L772.1 413.8L773.6 412.7L775.1 411.9L776.6 411.2L778.0 410.7L779.5 410.6L781.0 410.7L782.5 411.1L784.0 411.7L785.5 412.5L787.0 413.5L788.5 414.6L790.0 415.8L791.5 417.0L793.0 418.3L794.5 419.6L796.0 420.8L797.5 422.0L799.0 423.1L800.5 424.1L802.0 424.9L803.5 425.5L805.0 425.9L806.5 426.0L808.0 425.8L809.4 425.3L810.9 424.6L812.4 423.5L813.8 422.3L815.3 420.8L816.8 419.1L818.2 417.3L819.7 415.4L821.2 413.4L822.6 411.3L824.1 409.1L825.6 407.0L827.1 404.8L828.5 402.7L830.0 400.7L831.5 398.8L832.9 397.0L834.4 395.3L835.9 393.8L837.3 392.6L838.8 391.5L840.3 390.8L841.7 390.3L843.2 390.1L844.7 390.2L846.1 390.5L847.6 391.0L849.0 391.7L850.5 392.4L851.9 393.1L853.4 393.8L854.8 394.5L856.2 395.2L857.7 395.7L859.1 396.0L860.6 396.1L862.1 395.9L863.5 395.5L865.0 394.8L866.5 393.8L868.0 392.7L869.4 391.4L870.9 389.9L872.4 388.4L873.8 386.7L875.3 385.0L876.8 383.4L878.3 381.7L879.7 380.0L881.2 378.5L882.7 377.0L884.1 375.7L885.6 374.6L887.1 373.6L888.6 372.9L890.0 372.5L891.5 372.3L893.0 372.4L894.5 372.8L896.0 373.4L897.5 374.2L899.0 375.1L900.5 376.2L902.0 377.4L903.5 378.6L905.0 379.9L906.5 381.1L908.0 382.3L909.5 383.5L911.0 384.6L912.5 385.5L914.0 386.3L915.5 386.9L917.0 387.3L918.5 387.4L920.0 387.2L921.4 386.7L922.9 385.9L924.4 384.8L925.8 383.4L927.3 381.9L928.8 380.1L930.2 378.2L931.7 376.1L933.2 374.0L934.6 371.7L936.1 369.4L937.6 367.2L939.1 364.9L940.5 362.6L942.0 360.5L943.5 358.4L944.9 356.5L946.4 354.7L947.9 353.2L949.3 351.8L950.8 350.7L952.3 349.9L953.7 349.4L955.2 349.2L956.7 349.3L958.1 349.6L959.6 350.1L961.0 350.8L962.5 351.5L963.9 352.2L965.4 352.9L966.8 353.6L968.2 354.3L969.7 354.8L971.1 355.1L972.6 355.2L974.1 355.0L975.6 354.5L977.1 353.7L978.6 352.6L980.1 351.3L981.6 349.8L983.1 348.2L984.6 346.5L986.1 344.7L987.5 342.9L989.0 341.1L990.5 339.4L992.0 337.8L993.5 336.3L995.0 335.0L996.5 333.9L998.0 333.1L999.5 332.6L1001.0 332.4L1002.5 332.5L1004.0 333.0L1005.5 333.6L1007.0 334.5L1008.4 335.6L1009.9 336.8L1011.4 338.0L1012.9 339.4L1014.4 340.8L1015.9 342.2L1017.4 343.6L1018.9 344.8L1020.4 346.0L1021.8 347.1L1023.3 348.0L1024.8 348.6L1026.3 349.1L1027.8 349.2L1029.3 349.0L1030.8 348.5L1032.2 347.7L1033.7 346.6L1035.2 345.3L1036.7 343.8L1038.1 342.0L1039.6 340.2L1041.1 338.1L1042.6 336.0L1044.0 333.8L1045.5 331.6L1047.0 329.4L1048.5 327.2L1049.9 325.0L1051.4 322.9L1052.9 320.8L1054.4 319.0L1055.8 317.2L1057.3 315.7L1058.8 314.4L1060.3 313.3L1061.7 312.5L1063.2 312.0L1064.7 311.8L1066.2 311.9L1067.6 312.1L1069.0 312.5L1070.5 313.0L1072.0 313.5L1073.4 314.1L1074.8 314.6L1076.3 315.1L1077.8 315.6L1079.2 316.0L1080.6 316.2L1082.1 316.3L1083.5 316.1L1085.0 315.7L1086.4 315.0L1087.9 314.1L1089.3 313.0L1090.8 311.7L1092.2 310.2L1093.7 308.7L1095.1 307.1L1096.6 305.4L1098.0 303.6L1099.4 301.9L1100.9 300.2L1102.3 298.6L1103.8 297.1L1105.2 295.6L1106.7 294.3L1108.1 293.2L1109.6 292.3L1111.0 291.6L1112.5 291.2L1113.9 291.0L1115.4 291.1L1116.9 291.5L1118.3 292.0L1119.8 292.7L1121.3 293.5L1122.8 294.5L1124.2 295.5L1125.7 296.5L1127.2 297.6L1128.7 298.6L1130.1 299.6L1131.6 300.6L1133.1 301.4L1134.6 302.1L1136.0 302.6L1137.5 303.0L1139.0 303.1L1140.5 302.9L1141.9 302.5L1143.3 301.8L1144.8 300.8L1146.2 299.6L1147.7 298.2L1149.2 296.6L1150.6 294.9L1152.0 293.1L1153.5 291.1L1155.0 289.1L1156.4 287.0L1157.8 285.0L1159.3 282.9L1160.8 280.8L1162.2 278.8L1163.7 276.8L1165.1 275.0L1166.5 273.3L1168.0 271.7L1169.5 270.3L1170.9 269.1L1172.4 268.1L1173.8 267.4L1175.2 267.0L1176.7 266.8L1178.2 266.9L1179.7 267.1L1181.2 267.4L1182.7 267.9L1184.2 268.3L1185.6 268.8L1187.1 269.2L1188.6 269.7L1190.1 270.0L1191.6 270.2L1193.1 270.3L1194.5 270.1L1196.0 269.7L1197.4 269.0L1198.9 268.0L1200.3 266.9L1201.8 265.6L1203.2 264.2L1204.7 262.6L1206.1 261.0L1207.6 259.4L1209.0 257.8L1210.5 256.2L1211.9 254.6L1213.4 253.2L1214.8 251.9L1216.3 250.8L1217.8 249.8L1219.2 249.1L1220.6 248.7L1222.1 248.5L1223.6 248.6L1225.1 249.0L1226.6 249.5L1228.1 250.2L1229.6 251.1L1231.1 252.1L1232.6 253.1L1234.1 254.2L1235.6 255.3L1237.1 256.5L1238.6 257.6L1240.1 258.6L1241.6 259.6L1243.1 260.5L1244.6 261.2L1246.1 261.7L1247.6 262.1L1249.1 262.2L1250.5 262.1L1252.0 261.6L1253.4 260.9L1254.9 260.0L1256.3 258.9L1257.8 257.5L1259.2 256.0L1260.7 254.4L1262.1 252.6L1263.6 250.8L1265.0 248.9L1266.5 246.9L1267.9 244.9L1269.4 242.9L1270.8 240.9L1272.3 239.0L1273.8 237.2L1275.2 235.4L1276.6 233.8L1278.1 232.3L1279.5 230.9L1281.0 229.8L1282.5 228.9L1283.9 228.2L1285.3 227.7L1286.8 227.6L1288.3 227.7L1289.8 228.0L1291.3 228.4L1292.8 229.0L1294.3 229.5L1295.7 230.2L1297.2 230.7L1298.7 231.3L1300.2 231.7L1301.7 232.0L1303.2 232.1L1304.7 231.9L1306.2 231.5L1307.7 230.8L1309.2 229.9L1310.7 228.7L1312.1 227.5L1313.6 226.0L1315.1 224.5L1316.6 223.0L1318.1 221.3L1319.6 219.7L1321.1 218.2L1322.6 216.7L1324.1 215.2L1325.5 214.0L1327.0 212.8L1328.5 211.9L1330.0 211.2L1331.5 210.8L1333.0 210.6L1334.5 210.7L1336.0 211.2L1337.5 211.8L1339.0 212.6L1340.5 213.6L1342.0 214.8L1343.5 216.0L1345.0 217.3L1346.5 218.5L1348.0 219.8L1349.5 221.0L1351.0 222.2L1352.5 223.2L1354.0 224.0L1355.5 224.6L1357.0 225.1L1358.5 225.2L1360.0 225.1L1361.4 224.6L1362.9 224.0L1364.3 223.1L1365.8 222.0L1367.2 220.7L1368.7 219.2L1370.1 217.6L1371.6 215.9L1373.0 214.1L1374.5 212.2L1375.9 210.3L1377.4 208.4L1378.9 206.5L1380.3 204.6L1381.8 202.7L1383.2 200.9L1384.7 199.2L1386.1 197.6L1387.6 196.1L1389.0 194.8L1390.5 193.7L1391.9 192.8L1393.4 192.2L1394.8 191.7L1396.3 191.6L1397.8 191.7L1399.2 191.9L1400.7 192.3L1402.1 192.7L1403.5 193.3L1405.0 193.8L1406.5 194.3L1407.9 194.9L1409.3 195.3L1410.8 195.7L1412.2 195.9L1413.7 196.0L1415.2 195.9L1416.7 195.4L1418.2 194.8L1419.7 193.9L1421.2 192.8L1422.7 191.6L1424.2 190.3L1425.7 188.8L1427.2 187.3L1428.7 185.8L1430.1 184.3L1431.6 182.8L1433.1 181.3L1434.6 180.0L1436.1 178.8L1437.6 177.7L1439.1 176.8L1440.6 176.2L1442.1 175.7L1443.6 175.6L1445.1 175.7L1446.5 176.1L1448.0 176.7L1449.5 177.5L1451.0 178.4L1452.4 179.5L1453.9 180.7L1455.4 182.0L1456.9 183.2L1458.3 184.6L1459.8 185.8L1461.3 187.1L1462.8 188.3L1464.2 189.4L1465.7 190.3L1467.2 191.1L1468.7 191.7L1470.1 192.1L1471.6 192.2L1473.1 192.0L1474.5 191.6L1476.0 190.9L1477.5 189.9L1478.9 188.8L1480.4 187.4L1481.9 185.9L1483.3 184.2L1484.8 182.4L1486.3 180.5L1487.7 178.6L1489.2 176.6L1490.7 174.7L1492.2 172.7L1493.6 170.8L1495.1 168.9L1496.6 167.1L1498.0 165.4L1499.5 163.9L1501.0 162.5L1502.4 161.4L1503.9 160.4L1505.4 159.7L1506.8 159.3L1508.3 159.1L1509.7 159.2L1511.1 159.5L1512.5 160.0L1513.9 160.5L1515.3 161.1L1516.7 161.8L1518.1 162.4L1519.5 162.9L1520.9 163.4L1522.3 163.7L1523.7 163.8L1525.2 163.6L1526.7 163.2L1528.2 162.5L1529.7 161.6L1531.2 160.5L1532.7 159.2L1534.2 157.9L1535.7 156.4L1537.2 154.8L1538.7 153.2L1540.2 151.7L1541.7 150.1L1543.2 148.6L1544.7 147.3L1546.2 146.0L1547.7 144.9L1549.2 144.0L1550.7 143.3L1552.2 142.9L1553.7 142.7L1555.2 142.8L1556.6 143.2L1558.1 143.7L1559.6 144.4L1561.1 145.2L1562.5 146.2L1564.0 147.2L1565.5 148.3L1567.0 149.5L1568.4 150.6L1569.9 151.8L1571.4 152.9L1572.9 153.9L1574.3 154.9L1575.8 155.7L1577.3 156.4L1578.8 156.9L1580.2 157.3L1581.7 157.4L1583.2 157.2L1584.7 156.8L1586.2 156.0L1587.7 155.0L1589.2 153.7L1590.7 152.2L1592.1 150.6L1593.6 148.8L1595.1 146.9L1596.6 144.8L1598.1 142.7L1599.6 140.6L1601.1 138.5L1602.6 136.4L1604.1 134.3L1605.6 132.2L1607.1 130.3L1608.6 128.5L1610.0 126.9L1611.5 125.4L1613.0 124.1L1614.5 123.1L1616.0 122.3L1617.5 121.9L1619.0 121.7L1620.5 121.8L1622.0 122.2L1623.4 122.7L1624.9 123.3L1626.4 124.0L1627.9 124.8L1629.4 125.5L1630.9 126.1L1632.3 126.6L1633.8 127.0L1635.3 127.1L1636.7 126.9L1638.2 126.5L1639.6 125.8L1641.1 124.9L1642.5 123.7L1644.0 122.4L1645.4 121.0L1646.8 119.4L1648.3 117.8L1649.7 116.1L1651.2 114.5L1652.6 112.8L1654.1 111.2L1655.5 109.6L1656.9 108.2L1658.4 106.9L1659.8 105.7L1661.3 104.8L1662.7 104.1L1664.2 103.7L1665.6 103.5L1667.1 103.6L1668.6 104.0L1670.1 104.6L1671.6 105.4L1673.1 106.3L1674.6 107.4L1676.1 108.5L1677.6 109.7L1679.0 110.8L1680.5 112.0L1682.0 113.1L1683.5 114.2L1685.0 115.1L1686.5 115.9L1688.0 116.5L1689.5 116.9L1691.0 117.0L1692.5 116.8L1694.0 116.4L1695.5 115.7L1697.0 114.7L1698.5 113.5L1700.0 112.1L1701.4 110.5L1702.9 108.7L1704.4 106.9L1705.9 104.9L1707.4 102.9L1708.9 100.8L1710.4 98.7L1711.9 96.6L1713.4 94.5L1714.9 92.5L1716.4 90.5L1717.9 88.7L1719.4 86.9L1720.8 85.3L1722.3 83.9L1723.8 82.7L1725.3 81.7L1726.8 81.0L1728.3 80.6L1729.8 80.4L1731.2 80.5L1732.6 80.7L1734.0 81.1L1735.4 81.6L1736.8 82.1L1738.2 82.6L1739.6 83.1L1741.0 83.6L1742.4 84.0L1743.8 84.2L1745.2 84.3L1746.6 84.2L1748.1 83.8L1749.5 83.2L1750.9 82.3L1752.4 81.4L1753.8 80.2L1755.2 79.0L1756.7 77.6L1758.1 76.2L1759.5 74.7L1761.0 73.3L1762.4 71.8L1763.8 70.4L1765.3 69.0L1766.7 67.8L1768.1 66.6L1769.6 65.7L1771.0 64.8L1772.4 64.2L1773.9 63.8L1775.3 63.7L1776.8 63.8L1778.3 64.1L1779.8 64.6L1781.3 65.2L1782.8 65.9L1784.3 66.7L1785.8 67.6L1787.3 68.5L1788.8 69.4L1790.3 70.3L1791.8 71.2L1793.3 72.0L1794.8 72.7L1796.3 73.3L1797.8 73.8L1799.3 74.1L1800.8 74.2L1802.2 74.1L1803.7 73.8L1805.1 73.4L1806.6 72.7L1808.0 72.0L1809.5 71.2L1810.9 70.3L1812.4 69.3L1813.8 68.3L1815.3 67.2L1816.7 66.2L1818.2 65.1L1819.6 64.2L1821.1 63.2L1822.5 62.4"/>
<path stroke="#52AA14" d="M164.5 557.6L440.0 557.6L441.5 557.7L442.9 557.7L444.4 557.7L445.9 557.7L447.3 557.7L448.8 557.7L450.3 557.8L451.7 557.8L453.2 557.8L454.7 557.9L456.1 557.9L457.6 558.0L459.1 558.0L460.5 558.1L462.0 558.1L463.5 558.2L464.9 558.2L466.4 558.3L467.8 558.3L469.3 558.4L470.8 558.4L472.2 558.5L473.7 558.6L475.2 558.6L476.6 558.7L478.1 558.8L479.6 558.8L481.0 558.9L482.5 558.9L484.0 559.0L485.4 559.1L486.9 559.1L488.4 559.2L489.8 559.2L491.3 559.3L492.7 559.3L494.2 559.4L495.6 559.4L497.0 559.4L498.4 559.5L499.9 559.5L501.3 559.5L502.7 559.5L504.1 559.5L505.6 559.6L507.0 559.6L508.4 559.7L509.9 559.7L511.3 559.8L512.7 559.9L514.1 560.0L515.6 560.1L517.0 560.3L518.4 560.5L519.9 560.8L521.3 561.0L522.7 561.4L524.1 561.7L525.6 562.1L527.0 562.5L528.4 562.9L529.9 563.3L531.3 563.7L532.7 564.0L534.1 564.4L535.6 564.7L537.0 565.0L538.4 565.2L539.8 565.4L541.3 565.5L542.7 565.5L544.2 565.5L545.7 565.3L547.2 565.1L548.7 564.9L550.2 564.6L551.7 564.2L553.2 563.9L554.7 563.5L556.2 563.0L557.7 562.6L559.2 562.2L560.7 561.9L562.2 561.5L563.7 561.2L565.2 561.0L566.7 560.8L568.2 560.6L569.7 560.6L571.1 560.6L572.6 560.8L574.0 560.9L575.4 561.2L576.8 561.4L578.3 561.7L579.7 562.1L581.1 562.4L582.6 562.8L584.0 563.1L585.4 563.5L586.9 563.8L588.3 564.0L589.7 564.3L591.1 564.4L592.6 564.6L594.0 564.6L595.4 564.6L596.9 564.4L598.3 564.3L599.8 564.0L601.2 563.7L602.7 563.3L604.1 562.9L605.6 562.5L607.0 562.0L608.5 561.6L609.9 561.1L611.4 560.5L612.8 560.0L614.2 559.5L615.7 559.1L617.1 558.6L618.6 558.2L620.0 557.8L621.5 557.4L622.9 557.1L624.4 556.8L625.8 556.7L627.3 556.5L628.7 556.5L630.2 556.5L631.7 556.6L633.2 556.7L634.7 556.9L636.2 557.1L637.7 557.3L639.2 557.6L640.7 557.8L642.2 558.1L643.7 558.4L645.2 558.6L646.7 558.9L648.2 559.1L649.7 559.3L651.2 559.5L652.7 559.6L654.2 559.7L655.7 559.7L657.1 559.7L658.6 559.5L660.0 559.4L661.5 559.1L662.9 558.8L664.4 558.5L665.8 558.1L667.2 557.7L668.7 557.3L670.1 556.8L671.6 556.4L673.0 555.9L674.5 555.5L675.9 555.0L677.4 554.6L678.8 554.2L680.2 553.8L681.7 553.5L683.1 553.2L684.6 552.9L686.0 552.8L687.5 552.6L688.9 552.6L690.3 552.6L691.7 552.8L693.2 552.9L694.6 553.2L696.0 553.4L697.4 553.7L698.9 554.1L700.3 554.4L701.7 554.8L703.1 555.2L704.5 555.5L706.0 555.9L707.4 556.2L708.8 556.4L710.2 556.7L711.7 556.8L713.1 557.0L714.5 557.0L715.9 557.0L717.4 556.8L718.8 556.6L720.2 556.4L721.7 556.1L723.1 555.7L724.6 555.3L726.0 554.9L727.4 554.5L728.9 554.1L730.3 553.7L731.7 553.3L733.2 552.9L734.6 552.5L736.1 552.2L737.5 552.0L738.9 551.8L740.4 551.6L741.8 551.6L743.3 551.6L744.8 551.8L746.3 552.0L747.8 552.2L749.3 552.5L750.8 552.8L752.3 553.1L753.8 553.5L755.3 553.8L756.8 554.1L758.3 554.4L759.8 554.6L761.3 554.8L762.8 555.0L764.3 555.0L765.8 555.0L767.3 554.9L768.7 554.7L770.2 554.5L771.7 554.3L773.2 554.0L774.6 553.6L776.1 553.3L777.6 552.9L779.1 552.5L780.5 552.0L782.0 551.6L783.5 551.2L785.0 550.8L786.4 550.3L787.9 549.9L789.4 549.5L790.9 549.2L792.3 548.8L793.8 548.5L795.3 548.3L796.8 548.1L798.2 547.9L799.7 547.8L801.2 547.8L802.7 547.8L804.2 548.0L805.7 548.1L807.2 548.4L808.7 548.6L810.2 548.9L811.7 549.2L813.1 549.6L814.6 549.9L816.1 550.2L817.6 550.4L819.1 550.7L820.6 550.8L822.1 551.0L823.6 551.0L825.0 551.0L826.5 550.8L827.9 550.6L829.4 550.3L830.8 550.0L832.3 549.6L833.7 549.2L835.2 548.8L836.6 548.3L838.0 547.9L839.5 547.4L840.9 546.9L842.4 546.5L843.8 546.1L845.3 545.7L846.7 545.4L848.2 545.1L849.6 544.9L851.1 544.7L852.5 544.7L854.0 544.7L855.5 544.8L857.0 545.0L858.5 545.2L860.0 545.4L861.5 545.7L863.0 545.9L864.5 546.2L866.0 546.4L867.5 546.7L869.0 546.9L870.5 547.1L872.0 547.3L873.5 547.4L875.0 547.4L876.5 547.4L877.9 547.3L879.4 547.1L880.9 546.9L882.4 546.7L883.8 546.4L885.3 546.0L886.8 545.7L888.2 545.3L889.7 544.9L891.2 544.5L892.6 544.1L894.1 543.7L895.6 543.3L897.1 542.9L898.5 542.5L900.0 542.2L901.5 541.8L902.9 541.5L904.4 541.3L905.9 541.1L907.4 540.9L908.8 540.8L910.3 540.8L911.8 540.8L913.3 540.9L914.8 541.1L916.3 541.3L917.8 541.6L919.3 541.9L920.8 542.2L922.2 542.4L923.7 542.7L925.2 543.0L926.7 543.3L928.2 543.5L929.7 543.7L931.2 543.8L932.7 543.8L934.2 543.8L935.6 543.6L937.1 543.4L938.6 543.1L940.0 542.8L941.5 542.4L942.9 542.0L944.4 541.5L945.9 541.1L947.3 540.6L948.8 540.2L950.3 539.7L951.7 539.3L953.2 538.9L954.6 538.6L956.1 538.3L957.6 538.1L959.0 537.9L960.5 537.9L961.9 537.9L963.4 538.0L964.8 538.2L966.2 538.4L967.6 538.7L969.1 539.0L970.5 539.3L971.9 539.7L973.4 540.0L974.8 540.3L976.2 540.7L977.6 541.0L979.1 541.3L980.5 541.6L981.9 541.8L983.3 542.0L984.8 542.1L986.2 542.1L987.7 542.1L989.2 541.9L990.7 541.8L992.1 541.5L993.6 541.2L995.1 540.9L996.6 540.5L998.1 540.0L999.6 539.6L1001.1 539.1L1002.6 538.6L1004.0 538.2L1005.5 537.7L1007.0 537.2L1008.5 536.8L1010.0 536.3L1011.5 535.9L1013.0 535.6L1014.5 535.3L1015.9 535.0L1017.4 534.9L1018.9 534.7L1020.4 534.7L1021.8 534.7L1023.3 534.8L1024.7 535.0L1026.1 535.1L1027.5 535.3L1029.0 535.6L1030.4 535.8L1031.8 536.1L1033.2 536.4L1034.7 536.7L1036.1 537.0L1037.5 537.2L1039.0 537.5L1040.4 537.7L1041.8 537.8L1043.2 538.0L1044.7 538.1L1046.1 538.1L1047.5 538.1L1049.0 537.9L1050.4 537.7L1051.9 537.5L1053.3 537.1L1054.8 536.8L1056.2 536.4L1057.6 536.0L1059.1 535.5L1060.5 535.1L1062.0 534.6L1063.4 534.2L1064.8 533.8L1066.3 533.5L1067.7 533.1L1069.2 532.9L1070.6 532.7L1072.1 532.5L1073.5 532.5L1075.0 532.5L1076.5 532.7L1078.0 532.8L1079.5 533.1L1081.0 533.4L1082.5 533.7L1084.0 534.0L1085.5 534.4L1086.9 534.7L1088.4 535.0L1089.9 535.3L1091.4 535.6L1092.9 535.9L1094.4 536.0L1095.9 536.2L1097.4 536.2L1098.9 536.2L1100.4 536.0L1101.9 535.9L1103.4 535.6L1104.9 535.3L1106.3 535.0L1107.8 534.6L1109.3 534.2L1110.8 533.8L1112.3 533.3L1113.8 532.9L1115.3 532.4L1116.8 532.0L1118.3 531.5L1119.8 531.1L1121.3 530.7L1122.8 530.3L1124.2 530.0L1125.7 529.7L1127.2 529.4L1128.7 529.3L1130.2 529.1L1131.7 529.1L1133.2 529.1L1134.7 529.3L1136.1 529.4L1137.6 529.7L1139.1 530.0L1140.6 530.3L1142.1 530.6L1143.5 530.9L1145.0 531.2L1146.5 531.5L1148.0 531.8L1149.5 532.1L1150.9 532.2L1152.4 532.4L1153.9 532.4L1155.4 532.4L1156.8 532.3L1158.3 532.1L1159.8 531.9L1161.2 531.6L1162.7 531.3L1164.2 530.9L1165.6 530.6L1167.1 530.2L1168.6 529.8L1170.0 529.4L1171.5 529.0L1173.0 528.6L1174.4 528.3L1175.9 527.9L1177.4 527.6L1178.8 527.3L1180.3 527.1L1181.8 526.9L1183.2 526.8L1184.7 526.8L1186.2 526.8L1187.7 527.0L1189.2 527.1L1190.7 527.3L1192.2 527.6L1193.7 527.9L1195.2 528.2L1196.7 528.5L1198.2 528.9L1199.7 529.2L1201.2 529.5L1202.7 529.8L1204.2 530.0L1205.7 530.1L1207.2 530.3L1208.7 530.3L1210.2 530.3L1211.7 530.1L1213.2 530.0L1214.6 529.7L1216.1 529.4L1217.6 529.1L1219.1 528.7L1220.6 528.3L1222.1 527.9L1223.6 527.4L1225.1 527.0L1226.5 526.5L1228.0 526.1L1229.5 525.6L1231.0 525.2L1232.5 524.8L1234.0 524.4L1235.5 524.1L1237.0 523.8L1238.4 523.5L1239.9 523.4L1241.4 523.2L1242.9 523.2L1244.4 523.3L1245.9 523.4L1247.4 523.7L1248.8 524.0L1250.3 524.4L1251.8 524.7L1253.3 525.2L1254.8 525.5L1256.3 525.9L1257.7 526.2L1259.2 526.5L1260.7 526.6L1262.2 526.7L1263.7 526.7L1265.2 526.5L1266.6 526.4L1268.1 526.1L1269.6 525.8L1271.1 525.5L1272.6 525.1L1274.1 524.7L1275.5 524.3L1277.0 523.8L1278.5 523.4L1280.0 522.9L1281.5 522.4L1282.9 522.0L1284.4 521.6L1285.9 521.2L1287.4 520.9L1288.9 520.6L1290.4 520.3L1291.8 520.2L1293.3 520.0L1294.8 520.0L1296.3 520.1L1297.7 520.2L1299.2 520.4L1300.7 520.8L1302.1 521.1L1303.6 521.5L1305.0 521.9L1306.5 522.3L1308.0 522.7L1309.4 523.0L1310.9 523.4L1312.4 523.6L1313.8 523.7L1315.3 523.8L1316.8 523.8L1318.3 523.6L1319.8 523.4L1321.2 523.2L1322.7 522.8L1324.2 522.5L1325.7 522.1L1327.2 521.6L1328.7 521.1L1330.2 520.6L1331.7 520.1L1333.1 519.6L1334.6 519.1L1336.1 518.6L1337.6 518.1L1339.1 517.6L1340.6 517.2L1342.1 516.9L1343.6 516.5L1345.0 516.3L1346.5 516.1L1348.0 515.9L1349.5 515.9L1350.9 515.9L1352.4 516.0L1353.8 516.1L1355.2 516.3L1356.6 516.5L1358.1 516.8L1359.5 517.0L1360.9 517.3L1362.3 517.5L1363.8 517.8L1365.2 518.1L1366.6 518.3L1368.1 518.6L1369.5 518.8L1370.9 519.0L1372.3 519.1L1373.8 519.2L1375.2 519.2L1376.7 519.1L1378.1 519.0L1379.6 518.8L1381.0 518.5L1382.5 518.1L1383.9 517.6L1385.4 517.2L1386.8 516.7L1388.3 516.1L1389.8 515.6L1391.2 515.1L1392.7 514.5L1394.1 514.0L1395.6 513.6L1397.0 513.1L1398.5 512.7L1399.9 512.4L1401.4 512.2L1402.8 512.1L1404.3 512.0L1405.8 512.0L1407.3 512.2L1408.7 512.4L1410.2 512.7L1411.7 513.0L1413.2 513.4L1414.7 513.8L1416.1 514.1L1417.6 514.5L1419.1 514.9L1420.6 515.2L1422.1 515.5L1423.5 515.7L1425.0 515.9L1426.5 515.9L1428.0 515.9L1429.5 515.7L1431.0 515.6L1432.4 515.3L1433.9 515.0L1435.4 514.7L1436.9 514.3L1438.4 513.8L1439.9 513.4L1441.4 512.9L1442.9 512.4L1444.3 512.0L1445.8 511.5L1447.3 511.0L1448.8 510.6L1450.3 510.1L1451.8 509.7L1453.3 509.4L1454.8 509.1L1456.2 508.8L1457.7 508.7L1459.2 508.5L1460.7 508.5L1462.1 508.5L1463.6 508.6L1465.0 508.8L1466.4 508.9L1467.8 509.2L1469.3 509.4L1470.7 509.7L1472.1 510.0L1473.6 510.2L1475.0 510.5L1476.4 510.8L1477.8 511.1L1479.3 511.3L1480.7 511.6L1482.1 511.7L1483.5 511.9L1485.0 512.0L1486.4 512.0L1487.9 512.0L1489.3 511.8L1490.8 511.6L1492.2 511.3L1493.7 511.0L1495.1 510.6L1496.6 510.2L1498.0 509.7L1499.5 509.3L1501.0 508.8L1502.4 508.3L1503.9 507.9L1505.3 507.4L1506.8 507.0L1508.2 506.6L1509.7 506.3L1511.1 506.0L1512.6 505.8L1514.0 505.6L1515.5 505.6L1517.0 505.7L1518.5 505.8L1519.9 506.0L1521.4 506.3L1522.9 506.6L1524.4 507.0L1525.9 507.4L1527.3 507.8L1528.8 508.2L1530.3 508.6L1531.8 508.9L1533.3 509.2L1534.7 509.4L1536.2 509.5L1537.7 509.6L1539.2 509.6L1540.6 509.4L1542.1 509.3L1543.6 509.0L1545.0 508.7L1546.5 508.3L1548.0 507.9L1549.4 507.5L1550.9 507.1L1552.4 506.6L1553.8 506.1L1555.3 505.7L1556.8 505.2L1558.3 504.8L1559.7 504.4L1561.2 504.0L1562.7 503.6L1564.1 503.3L1565.6 503.0L1567.1 502.9L1568.5 502.7L1570.0 502.7L1571.5 502.7L1572.9 502.8L1574.4 502.9L1575.9 503.1L1577.4 503.3L1578.8 503.6L1580.3 503.8L1581.8 504.1L1583.2 504.4L1584.7 504.6L1586.2 504.9L1587.7 505.1L1589.1 505.4L1590.6 505.6L1592.1 505.8L1593.6 505.9L1595.0 506.0L1596.5 506.0L1598.0 506.0L1599.5 505.8L1601.0 505.6L1602.4 505.4L1603.9 505.1L1605.4 504.7L1606.9 504.4L1608.4 504.0L1609.9 503.6L1611.3 503.1L1612.8 502.7L1614.3 502.3L1615.8 502.0L1617.3 501.6L1618.8 501.3L1620.2 501.1L1621.7 500.9L1623.2 500.7L1624.7 500.7L1626.2 500.7L1627.6 500.8L1629.1 501.0L1630.5 501.1L1632.0 501.3L1633.4 501.6L1634.9 501.8L1636.3 502.1L1637.8 502.4L1639.2 502.7L1640.7 502.9L1642.1 503.2L1643.6 503.4L1645.0 503.5L1646.5 503.7L1647.9 503.8L1649.4 503.8L1650.8 503.8L1652.3 503.6L1653.7 503.4L1655.2 503.1L1656.6 502.8L1658.1 502.4L1659.5 502.0L1661.0 501.5L1662.4 501.0L1663.9 500.5L1665.3 500.0L1666.7 499.4L1668.2 498.9L1669.6 498.4L1671.1 497.9L1672.5 497.5L1674.0 497.1L1675.4 496.8L1676.9 496.5L1678.3 496.3L1679.8 496.1L1681.2 496.1L1682.7 496.1L1684.1 496.2L1685.6 496.3L1687.0 496.5L1688.5 496.7L1689.9 496.9L1691.4 497.2L1692.8 497.4L1694.3 497.7L1695.7 497.9L1697.2 498.2L1698.6 498.4L1700.1 498.6L1701.5 498.8L1703.0 498.9L1704.4 499.0L1705.9 499.0L1707.4 499.0L1708.9 498.8L1710.4 498.6L1711.8 498.3L1713.3 497.9L1714.8 497.5L1716.3 497.1L1717.8 496.6L1719.3 496.1L1720.7 495.7L1722.2 495.2L1723.7 494.7L1725.2 494.3L1726.7 493.9L1728.2 493.5L1729.6 493.2L1731.1 493.0L1732.6 492.8L1734.1 492.8L1735.6 492.8L1737.0 492.9L1738.5 493.1L1740.0 493.2L1741.5 493.5L1742.9 493.7L1744.4 494.0L1745.9 494.3L1747.3 494.6L1748.8 494.8L1750.3 495.1L1751.8 495.4L1753.2 495.6L1754.7 495.9L1756.2 496.0L1757.7 496.2L1759.1 496.3L1760.6 496.3L1762.0 496.3L1763.5 496.1L1764.9 496.0L1766.4 495.7L1767.8 495.4L1769.2 495.1L1770.7 494.7L1772.1 494.3L1773.6 493.9L1775.0 493.4L1776.4 493.0L1777.9 492.6L1779.3 492.1L1780.8 491.7L1782.2 491.3L1783.7 490.9L1785.1 490.6L1786.5 490.3L1788.0 490.0L1789.4 489.9L1790.9 489.7L1792.3 489.7L1793.7 489.7L1795.2 489.8L1796.6 489.9L1798.1 490.1L1799.5 490.3L1800.9 490.5L1802.4 490.8L1803.8 491.1L1805.2 491.4L1806.7 491.8L1808.1 492.1L1809.6 492.5L1811.0 492.9L1812.4 493.3L1813.9 493.6L1815.3 494.0L1816.7 494.4L1818.2 494.7L1819.6 495.1L1821.1 495.4L1822.5 495.7"/>
</g>
<g fill="none" stroke-linecap="round" shape-rendering="crispEdges">
<path stroke="#0072BD" stroke-width="13" d="M211.2 93.5 H297.5"/>
<path stroke="#F7510B" stroke-width="13" d="M211.2 153.6 H297.5"/>
<path stroke="#FFAF00" stroke-width="13.6" d="M211.2 208 H297.5"/>
<path stroke="#912B91" stroke-width="13" d="M211.2 268.5 H297.5"/>
<path stroke="#52AA14" stroke-width="13.2" d="M211.2 328.8 H297.5"/>
</g>
<text transform="translate(313.5 119.2) scale(1.005 1.05)" text-anchor="start" font-family="'Liberation Serif', serif" font-weight="bold" font-size="62" fill="#000000" >G1</text>
<text transform="translate(313.5 172.1) scale(1.005 1.05)" text-anchor="start" font-family="'Liberation Serif', serif" font-weight="bold" font-size="62" fill="#000000" >G2</text>
<text transform="translate(313.5 233.1) scale(1.005 1.05)" text-anchor="start" font-family="'Liberation Serif', serif" font-weight="bold" font-size="62" fill="#000000" >G3</text>
<text transform="translate(313.5 293.3) scale(1.005 1.05)" text-anchor="start" font-family="'Liberation Serif', serif" font-weight="bold" font-size="62" fill="#000000" >G4</text>
<text transform="translate(309.8 356.0) scale(0.985 1.05)" text-anchor="start" font-family="'Liberation Serif', serif" font-weight="bold" font-size="62" fill="#000000" >WTG1</text>
<text transform="translate(1262.6 783.5) scale(1.0 1.05)" text-anchor="start" font-family="'Liberation Serif', serif" font-weight="bold" font-size="62" fill="#000000" >G3</text>
<path d="M1113.2 823 L1199.5 781.3" stroke="#000" stroke-width="4" fill="none"/>
<path d="M1222.1 770.6 L1190.6 769.1 L1199.3 780.8 L1203.3 794.9 Z" fill="#000"/>
<text transform="translate(155 60.9) scale(1.0 1.03)" text-anchor="end" font-family="'Liberation Serif', serif" font-weight="bold" font-size="61" fill="#404040" >3</text>
<text transform="translate(155 237) scale(1.0 1.03)" text-anchor="end" font-family="'Liberation Serif', serif" font-weight="bold" font-size="61" fill="#404040" >2</text>
<text transform="translate(155 411) scale(1.0 1.03)" text-anchor="end" font-family="'Liberation Serif', serif" font-weight="bold" font-size="61" fill="#404040" >1</text>
<text transform="translate(155 588.7) scale(1.0 1.03)" text-anchor="end" font-family="'Liberation Serif', serif" font-weight="bold" font-size="61" fill="#404040" >0</text>
<g><text transform="translate(83.3 771.4) scale(1.11 1.5)" text-anchor="start" font-family="'Liberation Serif', serif" font-weight="bold" font-size="61" fill="#404040" >−</text><text transform="translate(155 760) scale(1.0 1.03)" text-anchor="end" font-family="'Liberation Serif', serif" font-weight="bold" font-size="61" fill="#404040" >1</text></g>
<g><text transform="translate(83.3 940.4) scale(1.11 1.5)" text-anchor="start" font-family="'Liberation Serif', serif" font-weight="bold" font-size="61" fill="#404040" >−</text><text transform="translate(155 929) scale(1.0 1.03)" text-anchor="end" font-family="'Liberation Serif', serif" font-weight="bold" font-size="61" fill="#404040" >2</text></g>
<g><text transform="translate(83.3 1102.4) scale(1.11 1.5)" text-anchor="start" font-family="'Liberation Serif', serif" font-weight="bold" font-size="61" fill="#404040" >−</text><text transform="translate(155 1091) scale(1.0 1.03)" text-anchor="end" font-family="'Liberation Serif', serif" font-weight="bold" font-size="61" fill="#404040" >3</text></g>
<text transform="translate(183 1148.6) scale(1.0 1.03)" text-anchor="middle" font-family="'Liberation Serif', serif" font-weight="bold" font-size="61" fill="#404040" >0</text>
<text transform="translate(597.3 1148.6) scale(1.0 1.03)" text-anchor="middle" font-family="'Liberation Serif', serif" font-weight="bold" font-size="61" fill="#404040" >5</text>
<text transform="translate(1001.4 1148.6) scale(1.0 1.03)" text-anchor="middle" font-family="'Liberation Serif', serif" font-weight="bold" font-size="61" fill="#404040" >10</text>
<text transform="translate(1419.6 1148.6) scale(1.0 1.03)" text-anchor="middle" font-family="'Liberation Serif', serif" font-weight="bold" font-size="61" fill="#404040" >15</text>
<text transform="translate(1826.5 1148.6) scale(1.0 1.03)" text-anchor="middle" font-family="'Liberation Serif', serif" font-weight="bold" font-size="61" fill="#404040" >20</text>
<g><text transform="translate(965.1 1213.3) scale(1.2 1)" font-family="'Liberation Serif', serif" font-weight="bold" font-size="86" fill="#404040" font-style="italic">t</text><text transform="translate(994.6 1213.3) scale(0.953 1)" font-family="'Liberation Serif', serif" font-weight="bold" font-size="86" fill="#404040">/</text><text transform="translate(1021.2 1213.3) scale(0.936 0.92)" font-family="'Liberation Serif', serif" font-weight="bold" font-size="86" fill="#404040" font-style="italic">s</text></g>
<g><text transform="translate(73.8 749.4) rotate(-90) scale(1.125 1.012)" font-family="'Liberation Serif', serif" font-weight="bold" font-size="78" fill="#000000">D</text><text transform="translate(73.8 684.4) rotate(-90) scale(1.031 1.012)" font-family="'Liberation Serif', serif" font-weight="bold" font-size="78" fill="#000000">M</text><text transform="translate(73.8 608.2) rotate(-90) scale(0.891 1.012)" font-family="'Liberation Serif', serif" font-weight="bold" font-size="78" fill="#000000">E</text><text transform="translate(73.8 563.7) rotate(-90) scale(0.911 1.012)" font-family="'Liberation Serif', serif" font-weight="bold" font-size="78" fill="#000000">F</text><text transform="translate(75.1 518.9) rotate(-90) scale(1.073 1.115)" font-family="'Liberation Serif', serif" font-weight="bold" font-size="78" fill="#000000">/</text><text transform="translate(73.8 496.0) rotate(-90) scale(1.066 1.012)" font-family="'Liberation Serif', serif" font-weight="bold" font-size="78" fill="#000000">p</text><text transform="translate(73.8 449.0) rotate(-90) scale(1.092 1.012)" font-family="'Liberation Serif', serif" font-weight="bold" font-size="78" fill="#000000">u</text></g>
</svg>
</body></html>
